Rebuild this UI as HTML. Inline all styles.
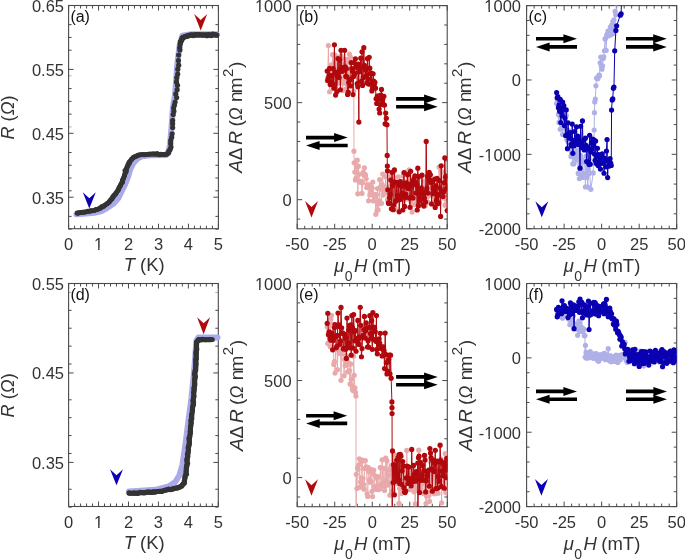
<!DOCTYPE html>
<html><head><meta charset="utf-8"><style>
html,body{margin:0;padding:0;background:#fff;width:685px;height:559px;overflow:hidden}
svg{display:block;will-change:transform;font-family:"Liberation Sans", sans-serif}
</style></head><body>
<svg width="685" height="559" viewBox="0 0 685 559">
<defs><clipPath id="ca"><rect x="68.6" y="5.5" width="149.8" height="223.2"/></clipPath><clipPath id="caw"><rect x="60" y="0" width="163" height="240"/></clipPath><clipPath id="cd"><rect x="68.6" y="283.5" width="149.7" height="223"/></clipPath><clipPath id="cdw"><rect x="60" y="280" width="165" height="240"/></clipPath><clipPath id="cb"><rect x="297.2" y="5.6" width="150" height="223.2"/></clipPath><clipPath id="ce"><rect x="297.2" y="283.5" width="150.1" height="223.2"/></clipPath><clipPath id="cc"><rect x="526.6" y="5.6" width="150.1" height="223.1"/></clipPath><clipPath id="cf"><rect x="526.6" y="283.5" width="150.1" height="223.1"/></clipPath></defs>
<rect x="68.6" y="5.5" width="149.8" height="223.2" fill="none" stroke="#4a4a4a" stroke-width="1.1"/><path d="M74.59 228.7v-3M74.59 5.5v3M80.58 228.7v-3M80.58 5.5v3M86.58 228.7v-3M86.58 5.5v3M92.57 228.7v-3M92.57 5.5v3M104.55 228.7v-3M104.55 5.5v3M110.54 228.7v-3M110.54 5.5v3M116.54 228.7v-3M116.54 5.5v3M122.53 228.7v-3M122.53 5.5v3M134.51 228.7v-3M134.51 5.5v3M140.5 228.7v-3M140.5 5.5v3M146.5 228.7v-3M146.5 5.5v3M152.49 228.7v-3M152.49 5.5v3M164.47 228.7v-3M164.47 5.5v3M170.46 228.7v-3M170.46 5.5v3M176.46 228.7v-3M176.46 5.5v3M182.45 228.7v-3M182.45 5.5v3M194.43 228.7v-3M194.43 5.5v3M200.42 228.7v-3M200.42 5.5v3M206.42 228.7v-3M206.42 5.5v3M212.41 228.7v-3M212.41 5.5v3M68.6 228.7v-5M68.6 5.5v5M98.56 228.7v-5M98.56 5.5v5M128.52 228.7v-5M128.52 5.5v5M158.48 228.7v-5M158.48 5.5v5M188.44 228.7v-5M188.44 5.5v5M218.4 228.7v-5M218.4 5.5v5M68.6 229.15h3M218.4 229.15h-3M68.6 216.37h3M218.4 216.37h-3M68.6 190.81h3M218.4 190.81h-3M68.6 178.03h3M218.4 178.03h-3M68.6 165.25h3M218.4 165.25h-3M68.6 152.47h3M218.4 152.47h-3M68.6 114.13h3M218.4 114.13h-3M68.6 101.35h3M218.4 101.35h-3M68.6 88.57h3M218.4 88.57h-3M68.6 50.23h3M218.4 50.23h-3M68.6 37.45h3M218.4 37.45h-3M68.6 24.67h3M218.4 24.67h-3M68.6 197.2h5M218.4 197.2h-5M68.6 133.3h5M218.4 133.3h-5M68.6 69.4h5M218.4 69.4h-5M68.6 5.5h5M218.4 5.5h-5" stroke="#4a4a4a" stroke-width="1" fill="none"/><path d="M68.6 126.91h3M218.4 126.91h-3M68.6 75.79h3M218.4 75.79h-3" stroke="#4a4a4a" stroke-width="1" fill="none" opacity="0.45"/>
<g clip-path="url(#caw)"><path d="M76.4 214.2 L86.1 213.6 L94.1 212.8 L101.5 211 L107.3 207.9 L113.6 203.5 L118.4 198 L121.4 191.8 L124.6 185.4 L127.8 177.3 L130.2 169.3 L133.4 162.9 L137.4 158.7 L142.1 156.2 L150.3 155.3 L166.4 155 L168.6 151.2 L170 144.8 L171.5 127.4 L172.9 108 L175 95 L176.2 80 L177.2 65 L179.6 45.5 L182.4 35.6 L191.5 34.2 L216.5 34.2" stroke="#aaaaea" stroke-width="6.0" fill="none" stroke-linejoin="round" stroke-linecap="round"/></g>
<g clip-path="url(#caw)"><path d="M77.2 212.9 L86.1 211.8 L94.1 210.6 L100.5 208.3 L105.3 205 L110.1 201 L114.2 196 L118.2 189.8 L121.4 183.4 L124.6 175.3 L127 167.3 L129.4 161.7 L133.4 157.7 L139.1 154.8 L150.3 154.3 L166.4 154.3 L168.6 152.6" stroke="#333333" stroke-width="4.6" fill="none" stroke-linejoin="round" stroke-linecap="round"/></g>
<g clip-path="url(#caw)" fill="#333333"><circle cx="77.23" cy="213.28" r="2.5"/><circle cx="78.7" cy="212.98" r="2.5"/><circle cx="80.68" cy="212.38" r="2.5"/><circle cx="83.11" cy="212.29" r="2.5"/><circle cx="84.31" cy="212.24" r="2.5"/><circle cx="86.44" cy="211.79" r="2.5"/><circle cx="87.88" cy="211.27" r="2.5"/><circle cx="89.19" cy="211.19" r="2.5"/><circle cx="90.5" cy="210.63" r="2.5"/><circle cx="92.01" cy="210.77" r="2.5"/><circle cx="94.05" cy="210.5" r="2.5"/><circle cx="95.72" cy="209.62" r="2.5"/><circle cx="97.28" cy="209.52" r="2.5"/><circle cx="99.13" cy="208.62" r="2.5"/><circle cx="100.38" cy="207.7" r="2.5"/><circle cx="101.95" cy="206.54" r="2.5"/><circle cx="103.27" cy="206.43" r="2.5"/><circle cx="104.64" cy="205.24" r="2.5"/><circle cx="106.6" cy="203.91" r="2.5"/><circle cx="107.84" cy="203.16" r="2.5"/><circle cx="109.21" cy="201.93" r="2.5"/><circle cx="109.92" cy="200.82" r="2.5"/><circle cx="110.83" cy="199.74" r="2.5"/><circle cx="111.91" cy="198.82" r="2.5"/><circle cx="112.61" cy="196.92" r="2.5"/><circle cx="113.91" cy="195.37" r="2.5"/><circle cx="115.77" cy="193.73" r="2.5"/><circle cx="116.12" cy="192.74" r="2.5"/><circle cx="117.7" cy="190.75" r="2.5"/><circle cx="118.52" cy="189.58" r="2.5"/><circle cx="118.95" cy="188" r="2.5"/><circle cx="119.99" cy="186.26" r="2.5"/><circle cx="120.58" cy="185.11" r="2.5"/><circle cx="121.95" cy="182.68" r="2.5"/><circle cx="122.5" cy="182.06" r="2.5"/><circle cx="122.53" cy="180.25" r="2.5"/><circle cx="123.18" cy="179.03" r="2.5"/><circle cx="124.02" cy="176.86" r="2.5"/><circle cx="124.53" cy="175.24" r="2.5"/><circle cx="125.03" cy="173.44" r="2.5"/><circle cx="126.18" cy="171.53" r="2.5"/><circle cx="124.96" cy="170.46" r="2.5"/><circle cx="126.48" cy="169.01" r="2.5"/><circle cx="126.94" cy="167.26" r="2.5"/><circle cx="127.7" cy="166.19" r="2.5"/><circle cx="128.07" cy="164.39" r="2.5"/><circle cx="129.38" cy="163.26" r="2.5"/><circle cx="129.1" cy="162.4" r="2.5"/><circle cx="130.97" cy="160.19" r="2.5"/><circle cx="131.71" cy="159.12" r="2.5"/><circle cx="133.15" cy="157.38" r="2.5"/><circle cx="134.44" cy="156.82" r="2.5"/><circle cx="136.58" cy="156.12" r="2.5"/><circle cx="137.24" cy="155.73" r="2.5"/><circle cx="139.12" cy="155.05" r="2.5"/><circle cx="141.33" cy="154.67" r="2.5"/><circle cx="142.79" cy="154.62" r="2.5"/><circle cx="144.36" cy="154.75" r="2.5"/><circle cx="146.98" cy="154.52" r="2.5"/><circle cx="148.36" cy="154.31" r="2.5"/><circle cx="150.07" cy="154.06" r="2.5"/><circle cx="151.97" cy="154.05" r="2.5"/><circle cx="153.75" cy="153.83" r="2.5"/><circle cx="155.77" cy="154.31" r="2.5"/><circle cx="157.11" cy="153.61" r="2.5"/><circle cx="159.24" cy="154.63" r="2.5"/><circle cx="160.81" cy="154.16" r="2.5"/><circle cx="162.65" cy="154.5" r="2.5"/><circle cx="164.34" cy="154.6" r="2.5"/><circle cx="166.31" cy="154.58" r="2.5"/><circle cx="167.51" cy="153.38" r="2.5"/></g>
<g clip-path="url(#caw)" fill="#333333"><circle cx="168.62" cy="152.83" r="2.6"/><circle cx="168.9" cy="151.08" r="2.6"/><circle cx="170.13" cy="149.41" r="2.6"/><circle cx="170.98" cy="147.06" r="2.6"/><circle cx="170.7" cy="143.65" r="2.6"/><circle cx="170.74" cy="140.41" r="2.6"/><circle cx="171.71" cy="137.21" r="2.6"/><circle cx="172.15" cy="133.78" r="2.6"/><circle cx="172.63" cy="127.54" r="2.6"/><circle cx="172.6" cy="123.69" r="2.6"/><circle cx="172.64" cy="120.42" r="2.6"/><circle cx="173.19" cy="114.56" r="2.6"/><circle cx="173.86" cy="111.15" r="2.6"/><circle cx="173.65" cy="107.74" r="2.6"/><circle cx="174.45" cy="105.09" r="2.6"/><circle cx="175.09" cy="102.04" r="2.6"/><circle cx="176.65" cy="97.6" r="2.6"/><circle cx="175.76" cy="93.88" r="2.6"/><circle cx="177.15" cy="89.65" r="2.6"/><circle cx="177.52" cy="85.35" r="2.6"/><circle cx="176.48" cy="81.97" r="2.6"/><circle cx="176.77" cy="77.69" r="2.6"/><circle cx="177.69" cy="74.03" r="2.6"/><circle cx="177.79" cy="69.2" r="2.6"/><circle cx="178.67" cy="65.2" r="2.6"/><circle cx="178.42" cy="60.61" r="2.6"/><circle cx="178.62" cy="55.08" r="2.6"/><circle cx="179.93" cy="49.99" r="2.6"/><circle cx="179.71" cy="47.51" r="2.6"/><circle cx="180.13" cy="44.37" r="2.6"/></g>
<g clip-path="url(#caw)"><path d="M180.8 42 L182.9 37.4 L191.5 34.9 L217 34.9" stroke="#333333" stroke-width="5.0" fill="none" stroke-linejoin="round" stroke-linecap="round"/></g>
<g clip-path="url(#caw)" fill="#333333"><circle cx="180.45" cy="41.66" r="2.7"/><circle cx="181.7" cy="39.78" r="2.7"/><circle cx="182.16" cy="38.26" r="2.7"/><circle cx="183.23" cy="37.46" r="2.7"/><circle cx="185.03" cy="36.75" r="2.7"/><circle cx="186.46" cy="36.31" r="2.7"/><circle cx="187.84" cy="35.94" r="2.7"/><circle cx="189.4" cy="35.29" r="2.7"/><circle cx="191.71" cy="34.92" r="2.7"/><circle cx="193.34" cy="35.56" r="2.7"/><circle cx="195.44" cy="34.72" r="2.7"/><circle cx="197.43" cy="34.74" r="2.7"/><circle cx="199.23" cy="34.79" r="2.7"/><circle cx="201.92" cy="34.91" r="2.7"/><circle cx="203.32" cy="35.1" r="2.7"/><circle cx="205.84" cy="34.83" r="2.7"/><circle cx="207.01" cy="35.64" r="2.7"/><circle cx="208.72" cy="34.79" r="2.7"/><circle cx="211.32" cy="35.59" r="2.7"/><circle cx="212.79" cy="34.17" r="2.7"/><circle cx="215.24" cy="34.74" r="2.7"/></g>
<path d="M82.8 192.3L89.3 198.3L95.8 192.3L89.3 208.6Z" fill="#0a00b2"/>
<path d="M194.2 14L200.7 20L207.2 14L200.7 30.6Z" fill="#b0080c"/>
<rect x="68.6" y="283.5" width="149.7" height="223" fill="none" stroke="#4a4a4a" stroke-width="1.1"/><path d="M74.59 506.5v-3M74.59 283.5v3M80.58 506.5v-3M80.58 283.5v3M86.56 506.5v-3M86.56 283.5v3M92.55 506.5v-3M92.55 283.5v3M104.53 506.5v-3M104.53 283.5v3M110.52 506.5v-3M110.52 283.5v3M116.5 506.5v-3M116.5 283.5v3M122.49 506.5v-3M122.49 283.5v3M134.47 506.5v-3M134.47 283.5v3M140.46 506.5v-3M140.46 283.5v3M146.44 506.5v-3M146.44 283.5v3M152.43 506.5v-3M152.43 283.5v3M164.41 506.5v-3M164.41 283.5v3M170.4 506.5v-3M170.4 283.5v3M176.38 506.5v-3M176.38 283.5v3M182.37 506.5v-3M182.37 283.5v3M194.35 506.5v-3M194.35 283.5v3M200.34 506.5v-3M200.34 283.5v3M206.32 506.5v-3M206.32 283.5v3M212.31 506.5v-3M212.31 283.5v3M68.6 506.5v-5M68.6 283.5v5M98.54 506.5v-5M98.54 283.5v5M128.48 506.5v-5M128.48 283.5v5M158.42 506.5v-5M158.42 283.5v5M188.36 506.5v-5M188.36 283.5v5M218.3 506.5v-5M218.3 283.5v5M68.6 507.13h3M218.3 507.13h-3M68.6 489.24h3M218.3 489.24h-3M68.6 453.46h3M218.3 453.46h-3M68.6 435.57h3M218.3 435.57h-3M68.6 417.68h3M218.3 417.68h-3M68.6 399.79h3M218.3 399.79h-3M68.6 364.01h3M218.3 364.01h-3M68.6 346.12h3M218.3 346.12h-3M68.6 328.23h3M218.3 328.23h-3M68.6 310.34h3M218.3 310.34h-3M68.6 462.4h5M218.3 462.4h-5M68.6 372.95h5M218.3 372.95h-5M68.6 283.5h5M218.3 283.5h-5" stroke="#4a4a4a" stroke-width="1" fill="none"/><path d="M68.6 292.45h3M218.3 292.45h-3" stroke="#4a4a4a" stroke-width="1" fill="none" opacity="0.45"/>
<g clip-path="url(#cdw)"><path d="M129 491.6 L155.1 489.8 L168.9 486.4 L175.2 482 L179.3 475.5 L182.4 465 L185.3 445.4 L188.4 421.1 L191.6 396.8 L193.7 375.6 L195.3 356.3 L196.3 341 L198.5 337.4 L217.5 337.4" stroke="#aaaaea" stroke-width="6.0" fill="none" stroke-linejoin="round" stroke-linecap="round"/></g>
<g clip-path="url(#cdw)"><path d="M129 493.3 L155.1 492 L172.2 489.2 L180.3 486.8 L184.3 483 L186.7 465.7 L188.9 445.4 L191.3 421.1 L193.4 399.9 L194.9 378.6 L195.8 360.4 L196.5 342.2 L198.5 339.7 L212.5 339.7" stroke="#333333" stroke-width="4.8" fill="none" stroke-linejoin="round" stroke-linecap="round"/></g>
<g clip-path="url(#cdw)" fill="#333333"><circle cx="129.15" cy="492.76" r="2.6"/><circle cx="130.63" cy="493.23" r="2.6"/><circle cx="133.17" cy="493.12" r="2.6"/><circle cx="134.1" cy="493.12" r="2.6"/><circle cx="136.1" cy="493.3" r="2.6"/><circle cx="138.24" cy="493.37" r="2.6"/><circle cx="140.15" cy="492.44" r="2.6"/><circle cx="141.61" cy="492.54" r="2.6"/><circle cx="144.05" cy="492.91" r="2.6"/><circle cx="145.86" cy="492.24" r="2.6"/><circle cx="147.79" cy="491.94" r="2.6"/><circle cx="149.66" cy="492.05" r="2.6"/><circle cx="151.82" cy="492.48" r="2.6"/><circle cx="153.35" cy="491.79" r="2.6"/><circle cx="155.27" cy="492.11" r="2.6"/><circle cx="156.84" cy="491.5" r="2.6"/><circle cx="159.28" cy="491.26" r="2.6"/><circle cx="160.93" cy="491.48" r="2.6"/><circle cx="162.25" cy="491.29" r="2.6"/><circle cx="164.9" cy="490.25" r="2.6"/><circle cx="166.21" cy="489.77" r="2.6"/><circle cx="168.68" cy="489.05" r="2.6"/><circle cx="170.58" cy="489.56" r="2.6"/><circle cx="171.99" cy="489.05" r="2.6"/><circle cx="173.71" cy="488.65" r="2.6"/><circle cx="175.71" cy="487.99" r="2.6"/><circle cx="177.39" cy="488.06" r="2.6"/><circle cx="178.6" cy="487.46" r="2.6"/><circle cx="180.14" cy="486.82" r="2.6"/><circle cx="181.78" cy="486.12" r="2.6"/><circle cx="182.95" cy="484.22" r="2.6"/><circle cx="184.31" cy="482.95" r="2.6"/><circle cx="184.32" cy="481.09" r="2.6"/><circle cx="184.8" cy="477.88" r="2.6"/><circle cx="185.11" cy="475.79" r="2.6"/><circle cx="186.56" cy="474.03" r="2.6"/><circle cx="186.31" cy="470.75" r="2.6"/><circle cx="186.35" cy="467.87" r="2.6"/><circle cx="186.92" cy="465.67" r="2.6"/><circle cx="187.57" cy="463.36" r="2.6"/><circle cx="186.89" cy="460.64" r="2.6"/><circle cx="186.9" cy="459.12" r="2.6"/><circle cx="187.78" cy="456.33" r="2.6"/><circle cx="187.46" cy="454.51" r="2.6"/><circle cx="188.06" cy="452.24" r="2.6"/><circle cx="188.41" cy="449.68" r="2.6"/><circle cx="188.13" cy="447.7" r="2.6"/><circle cx="188.93" cy="445.46" r="2.6"/><circle cx="189.43" cy="443.25" r="2.6"/><circle cx="189.23" cy="440.72" r="2.6"/><circle cx="188.96" cy="438.32" r="2.6"/><circle cx="189.85" cy="435.99" r="2.6"/><circle cx="190.4" cy="432.97" r="2.6"/><circle cx="190.3" cy="431.16" r="2.6"/><circle cx="190.42" cy="428.41" r="2.6"/><circle cx="190.64" cy="426.14" r="2.6"/><circle cx="191.15" cy="423.28" r="2.6"/><circle cx="190.87" cy="420.43" r="2.6"/><circle cx="191.79" cy="418.61" r="2.6"/><circle cx="191.56" cy="416.23" r="2.6"/><circle cx="191.72" cy="414.24" r="2.6"/><circle cx="192.42" cy="411" r="2.6"/><circle cx="192.46" cy="409.35" r="2.6"/><circle cx="192.6" cy="407" r="2.6"/><circle cx="193.44" cy="404.71" r="2.6"/><circle cx="193.53" cy="402.56" r="2.6"/><circle cx="192.94" cy="400.44" r="2.6"/><circle cx="193.63" cy="397.45" r="2.6"/><circle cx="193.99" cy="395.85" r="2.6"/><circle cx="193.66" cy="392.59" r="2.6"/><circle cx="194.18" cy="389.89" r="2.6"/><circle cx="193.9" cy="388.08" r="2.6"/><circle cx="194.63" cy="385.87" r="2.6"/><circle cx="194.82" cy="383.67" r="2.6"/><circle cx="194.6" cy="380.86" r="2.6"/><circle cx="194.81" cy="378.5" r="2.6"/><circle cx="195.35" cy="376.59" r="2.6"/><circle cx="194.5" cy="374.2" r="2.6"/><circle cx="194.92" cy="371.44" r="2.6"/><circle cx="195.75" cy="369.91" r="2.6"/><circle cx="195.82" cy="367.43" r="2.6"/><circle cx="196.13" cy="364.6" r="2.6"/><circle cx="195.95" cy="362.47" r="2.6"/><circle cx="195.62" cy="359.9" r="2.6"/><circle cx="196.36" cy="358.67" r="2.6"/><circle cx="196.25" cy="355.67" r="2.6"/><circle cx="196.12" cy="353.25" r="2.6"/><circle cx="196.07" cy="351.77" r="2.6"/><circle cx="196.73" cy="349.23" r="2.6"/><circle cx="196.57" cy="346.72" r="2.6"/><circle cx="196.53" cy="344.43" r="2.6"/><circle cx="196.65" cy="342.01" r="2.6"/><circle cx="197.81" cy="340.88" r="2.6"/><circle cx="198.57" cy="339.66" r="2.6"/><circle cx="200.97" cy="339.98" r="2.6"/><circle cx="202.26" cy="339.42" r="2.6"/><circle cx="204.68" cy="339.74" r="2.6"/><circle cx="206.43" cy="339.77" r="2.6"/><circle cx="209.01" cy="339.68" r="2.6"/><circle cx="210.94" cy="339.56" r="2.6"/></g>
<path d="M110 469.3L116.5 475.3L123 469.3L116.5 485.3Z" fill="#0a00b2"/>
<path d="M197.1 317.3L203.6 323.3L210.1 317.3L203.6 334.3Z" fill="#b0080c"/>
<rect x="297.2" y="5.6" width="150" height="223.2" fill="none" stroke="#4a4a4a" stroke-width="1.1"/><path d="M304.7 228.8v-3M304.7 5.6v3M312.2 228.8v-3M312.2 5.6v3M319.7 228.8v-3M319.7 5.6v3M327.2 228.8v-3M327.2 5.6v3M342.2 228.8v-3M342.2 5.6v3M349.7 228.8v-3M349.7 5.6v3M357.2 228.8v-3M357.2 5.6v3M364.7 228.8v-3M364.7 5.6v3M379.7 228.8v-3M379.7 5.6v3M387.2 228.8v-3M387.2 5.6v3M394.7 228.8v-3M394.7 5.6v3M402.2 228.8v-3M402.2 5.6v3M417.2 228.8v-3M417.2 5.6v3M424.7 228.8v-3M424.7 5.6v3M432.2 228.8v-3M432.2 5.6v3M439.7 228.8v-3M439.7 5.6v3M297.2 228.8v-5M297.2 5.6v5M334.7 228.8v-5M334.7 5.6v5M372.2 228.8v-5M372.2 5.6v5M409.7 228.8v-5M409.7 5.6v5M447.2 228.8v-5M447.2 5.6v5M297.2 219.1h3M447.2 219.1h-3M297.2 180.28h3M447.2 180.28h-3M297.2 160.87h3M447.2 160.87h-3M297.2 141.46h3M447.2 141.46h-3M297.2 122.05h3M447.2 122.05h-3M297.2 83.23h3M447.2 83.23h-3M297.2 63.83h3M447.2 63.83h-3M297.2 44.42h3M447.2 44.42h-3M297.2 25.01h3M447.2 25.01h-3M297.2 199.69h5M447.2 199.69h-5M297.2 102.64h5M447.2 102.64h-5M297.2 5.6h5M447.2 5.6h-5" stroke="#4a4a4a" stroke-width="1" fill="none"/>
<g clip-path="url(#cb)"><path d="M327.2 80.78 L327.8 77.58 L328.4 45.57 L329 79.73 L329.6 91.75 L330.2 69.71 L330.8 71.56 L331.4 64.82 L332 78.17 L332.6 54.72 L333.2 65.66 L333.8 66.06 L334.4 69.99 L335 55.19 L335.6 62.07 L336.2 83.06 L336.8 62.93 L337.4 81.79 L338 57.57 L338.6 80.63 L339.2 68.63 L339.8 83.26 L340.4 68.96 L341 55.5 L341.6 58.47 L342.2 81.46 L342.8 90.41 L343.4 64.18 L344 82.04 L344.6 83.13 L345.2 64.43 L345.8 89.02 L346.4 62.94 L347 59.45 L347.6 72.95 L348.2 84.87 L348.8 76.07 L349.4 54.01 L350 70.83 L350.6 57.29 L351.2 72.57 L351.8 71.62 L352.4 70.78 L353 71.57 L353.82 91 L353.97 151.17 L354.2 162.8 L354.8 172.06 L355.4 180.11 L356 178.04 L356.6 167.04 L357.2 160.2 L357.8 193.81 L358.4 166.21 L359 174.34 L359.6 181.29 L360.2 182.18 L360.8 181.31 L361.4 182.25 L362 193.44 L362.6 182.87 L363.2 172.29 L363.8 174.93 L364.4 167.82 L365 174.78 L365.6 174.9 L366.2 178.81 L366.8 187.43 L367.4 184.7 L368 186.51 L368.6 200.85 L369.2 184.92 L369.8 194.98 L370.4 186.99 L371 193.96 L371.6 192.19 L372.2 187.99 L372.8 182.03 L373.4 200.9 L374 196.27 L374.6 195.46 L375.2 194.7 L375.8 214.32 L376.4 194.6 L377 210.44 L377.6 188.57 L378.2 209.73 L378.8 203.77 L379.4 200.79 L379.7 179.63 L380.3 186.99 L380.9 189.2 L381.5 203.32 L382.1 184.58 L382.7 174.06 L383.3 195.07 L383.9 187.02 L384.5 191.56 L385.1 192.01 L385.7 176.7 L386.3 187.82 L386.9 192.68 L387.5 199.59 L388.1 201.34 L388.7 198.31 L389.3 176.67 L389.9 196.59 L390.5 186.19 L391.1 188.73 L391.7 194.16 L392.3 181.41 L392.9 176.83 L393.5 191.34 L394.1 171.59 L394.7 204.03 L395.3 186.64 L395.9 208.85 L396.5 195.15 L397.1 187.83 L397.7 188.19 L398.3 176.81 L398.9 190.53 L399.5 187.72 L400.1 187.45 L400.7 181.86 L401.3 190.69 L401.9 199.46 L402.5 181.98 L403.1 175.75 L403.7 197.88 L404.3 181.88 L404.9 188.31 L405.5 188.28 L406.1 184.69 L406.7 172 L407.3 199.04 L407.9 183.87 L408.5 174.31 L409.1 169.94 L409.7 185.7 L410.3 197.29 L410.9 201.86 L411.5 183.97 L412.1 212.1 L412.7 188.06 L413.3 192.64 L413.9 194.93 L414.5 192.81 L415.1 204.53 L415.7 189.31 L416.3 190.99 L416.9 200.08 L417.5 198.61 L418.1 186.47 L418.7 205.64 L419.3 200.79 L419.9 194.19 L420.5 196.96 L421.1 193.17 L421.7 190.5 L422.3 189.83 L422.9 201.24 L423.5 192.22 L424.1 181.01 L424.7 187.96 L425.3 205.85 L425.9 186.1 L426.5 193.41 L427.1 196.92 L427.7 189.04 L428.3 202.29 L428.9 177.91 L429.5 189.98 L430.1 195.2 L430.7 187.05 L431.3 187.68 L431.9 193.88 L432.5 187.24 L433.1 185.75 L433.7 202.68 L434.3 197.16 L434.9 201.78 L435.5 187.72 L436.1 194.32 L436.7 191.79 L437.3 184.96 L437.9 188.41 L438.5 195.72 L439.1 166.98 L439.7 182.55 L440.3 188.2 L440.9 170.63 L441.5 190.68 L442.1 188.24 L442.7 184.8 L443.3 172.3 L443.9 197.01 L444.5 197.75 L445.1 205.14 L445.7 181.93 L446.3 180.62 L446.9 191.29" stroke="#e9a9ab" stroke-width="1.0" fill="none" stroke-linejoin="round"/><g fill="#e9a9ab"><circle cx="327.2" cy="80.78" r="2.6"/><circle cx="327.8" cy="77.58" r="2.6"/><circle cx="328.4" cy="45.57" r="2.6"/><circle cx="329" cy="79.73" r="2.6"/><circle cx="329.6" cy="91.75" r="2.6"/><circle cx="330.2" cy="69.71" r="2.6"/><circle cx="330.8" cy="71.56" r="2.6"/><circle cx="331.4" cy="64.82" r="2.6"/><circle cx="332" cy="78.17" r="2.6"/><circle cx="332.6" cy="54.72" r="2.6"/><circle cx="333.2" cy="65.66" r="2.6"/><circle cx="333.8" cy="66.06" r="2.6"/><circle cx="334.4" cy="69.99" r="2.6"/><circle cx="335" cy="55.19" r="2.6"/><circle cx="335.6" cy="62.07" r="2.6"/><circle cx="336.2" cy="83.06" r="2.6"/><circle cx="336.8" cy="62.93" r="2.6"/><circle cx="337.4" cy="81.79" r="2.6"/><circle cx="338" cy="57.57" r="2.6"/><circle cx="338.6" cy="80.63" r="2.6"/><circle cx="339.2" cy="68.63" r="2.6"/><circle cx="339.8" cy="83.26" r="2.6"/><circle cx="340.4" cy="68.96" r="2.6"/><circle cx="341" cy="55.5" r="2.6"/><circle cx="341.6" cy="58.47" r="2.6"/><circle cx="342.2" cy="81.46" r="2.6"/><circle cx="342.8" cy="90.41" r="2.6"/><circle cx="343.4" cy="64.18" r="2.6"/><circle cx="344" cy="82.04" r="2.6"/><circle cx="344.6" cy="83.13" r="2.6"/><circle cx="345.2" cy="64.43" r="2.6"/><circle cx="345.8" cy="89.02" r="2.6"/><circle cx="346.4" cy="62.94" r="2.6"/><circle cx="347" cy="59.45" r="2.6"/><circle cx="347.6" cy="72.95" r="2.6"/><circle cx="348.2" cy="84.87" r="2.6"/><circle cx="348.8" cy="76.07" r="2.6"/><circle cx="349.4" cy="54.01" r="2.6"/><circle cx="350" cy="70.83" r="2.6"/><circle cx="350.6" cy="57.29" r="2.6"/><circle cx="351.2" cy="72.57" r="2.6"/><circle cx="351.8" cy="71.62" r="2.6"/><circle cx="352.4" cy="70.78" r="2.6"/><circle cx="353" cy="71.57" r="2.6"/><circle cx="353.82" cy="91" r="2.6"/><circle cx="353.97" cy="151.17" r="2.6"/><circle cx="354.2" cy="162.8" r="2.6"/><circle cx="354.8" cy="172.06" r="2.6"/><circle cx="355.4" cy="180.11" r="2.6"/><circle cx="356" cy="178.04" r="2.6"/><circle cx="356.6" cy="167.04" r="2.6"/><circle cx="357.2" cy="160.2" r="2.6"/><circle cx="357.8" cy="193.81" r="2.6"/><circle cx="358.4" cy="166.21" r="2.6"/><circle cx="359" cy="174.34" r="2.6"/><circle cx="359.6" cy="181.29" r="2.6"/><circle cx="360.2" cy="182.18" r="2.6"/><circle cx="360.8" cy="181.31" r="2.6"/><circle cx="361.4" cy="182.25" r="2.6"/><circle cx="362" cy="193.44" r="2.6"/><circle cx="362.6" cy="182.87" r="2.6"/><circle cx="363.2" cy="172.29" r="2.6"/><circle cx="363.8" cy="174.93" r="2.6"/><circle cx="364.4" cy="167.82" r="2.6"/><circle cx="365" cy="174.78" r="2.6"/><circle cx="365.6" cy="174.9" r="2.6"/><circle cx="366.2" cy="178.81" r="2.6"/><circle cx="366.8" cy="187.43" r="2.6"/><circle cx="367.4" cy="184.7" r="2.6"/><circle cx="368" cy="186.51" r="2.6"/><circle cx="368.6" cy="200.85" r="2.6"/><circle cx="369.2" cy="184.92" r="2.6"/><circle cx="369.8" cy="194.98" r="2.6"/><circle cx="370.4" cy="186.99" r="2.6"/><circle cx="371" cy="193.96" r="2.6"/><circle cx="371.6" cy="192.19" r="2.6"/><circle cx="372.2" cy="187.99" r="2.6"/><circle cx="372.8" cy="182.03" r="2.6"/><circle cx="373.4" cy="200.9" r="2.6"/><circle cx="374" cy="196.27" r="2.6"/><circle cx="374.6" cy="195.46" r="2.6"/><circle cx="375.2" cy="194.7" r="2.6"/><circle cx="375.8" cy="214.32" r="2.6"/><circle cx="376.4" cy="194.6" r="2.6"/><circle cx="377" cy="210.44" r="2.6"/><circle cx="377.6" cy="188.57" r="2.6"/><circle cx="378.2" cy="209.73" r="2.6"/><circle cx="378.8" cy="203.77" r="2.6"/><circle cx="379.4" cy="200.79" r="2.6"/><circle cx="379.7" cy="179.63" r="2.6"/><circle cx="380.3" cy="186.99" r="2.6"/><circle cx="380.9" cy="189.2" r="2.6"/><circle cx="381.5" cy="203.32" r="2.6"/><circle cx="382.1" cy="184.58" r="2.6"/><circle cx="382.7" cy="174.06" r="2.6"/><circle cx="383.3" cy="195.07" r="2.6"/><circle cx="383.9" cy="187.02" r="2.6"/><circle cx="384.5" cy="191.56" r="2.6"/><circle cx="385.1" cy="192.01" r="2.6"/><circle cx="385.7" cy="176.7" r="2.6"/><circle cx="386.3" cy="187.82" r="2.6"/><circle cx="386.9" cy="192.68" r="2.6"/><circle cx="387.5" cy="199.59" r="2.6"/><circle cx="388.1" cy="201.34" r="2.6"/><circle cx="388.7" cy="198.31" r="2.6"/><circle cx="389.3" cy="176.67" r="2.6"/><circle cx="389.9" cy="196.59" r="2.6"/><circle cx="390.5" cy="186.19" r="2.6"/><circle cx="391.1" cy="188.73" r="2.6"/><circle cx="391.7" cy="194.16" r="2.6"/><circle cx="392.3" cy="181.41" r="2.6"/><circle cx="392.9" cy="176.83" r="2.6"/><circle cx="393.5" cy="191.34" r="2.6"/><circle cx="394.1" cy="171.59" r="2.6"/><circle cx="394.7" cy="204.03" r="2.6"/><circle cx="395.3" cy="186.64" r="2.6"/><circle cx="395.9" cy="208.85" r="2.6"/><circle cx="396.5" cy="195.15" r="2.6"/><circle cx="397.1" cy="187.83" r="2.6"/><circle cx="397.7" cy="188.19" r="2.6"/><circle cx="398.3" cy="176.81" r="2.6"/><circle cx="398.9" cy="190.53" r="2.6"/><circle cx="399.5" cy="187.72" r="2.6"/><circle cx="400.1" cy="187.45" r="2.6"/><circle cx="400.7" cy="181.86" r="2.6"/><circle cx="401.3" cy="190.69" r="2.6"/><circle cx="401.9" cy="199.46" r="2.6"/><circle cx="402.5" cy="181.98" r="2.6"/><circle cx="403.1" cy="175.75" r="2.6"/><circle cx="403.7" cy="197.88" r="2.6"/><circle cx="404.3" cy="181.88" r="2.6"/><circle cx="404.9" cy="188.31" r="2.6"/><circle cx="405.5" cy="188.28" r="2.6"/><circle cx="406.1" cy="184.69" r="2.6"/><circle cx="406.7" cy="172" r="2.6"/><circle cx="407.3" cy="199.04" r="2.6"/><circle cx="407.9" cy="183.87" r="2.6"/><circle cx="408.5" cy="174.31" r="2.6"/><circle cx="409.1" cy="169.94" r="2.6"/><circle cx="409.7" cy="185.7" r="2.6"/><circle cx="410.3" cy="197.29" r="2.6"/><circle cx="410.9" cy="201.86" r="2.6"/><circle cx="411.5" cy="183.97" r="2.6"/><circle cx="412.1" cy="212.1" r="2.6"/><circle cx="412.7" cy="188.06" r="2.6"/><circle cx="413.3" cy="192.64" r="2.6"/><circle cx="413.9" cy="194.93" r="2.6"/><circle cx="414.5" cy="192.81" r="2.6"/><circle cx="415.1" cy="204.53" r="2.6"/><circle cx="415.7" cy="189.31" r="2.6"/><circle cx="416.3" cy="190.99" r="2.6"/><circle cx="416.9" cy="200.08" r="2.6"/><circle cx="417.5" cy="198.61" r="2.6"/><circle cx="418.1" cy="186.47" r="2.6"/><circle cx="418.7" cy="205.64" r="2.6"/><circle cx="419.3" cy="200.79" r="2.6"/><circle cx="419.9" cy="194.19" r="2.6"/><circle cx="420.5" cy="196.96" r="2.6"/><circle cx="421.1" cy="193.17" r="2.6"/><circle cx="421.7" cy="190.5" r="2.6"/><circle cx="422.3" cy="189.83" r="2.6"/><circle cx="422.9" cy="201.24" r="2.6"/><circle cx="423.5" cy="192.22" r="2.6"/><circle cx="424.1" cy="181.01" r="2.6"/><circle cx="424.7" cy="187.96" r="2.6"/><circle cx="425.3" cy="205.85" r="2.6"/><circle cx="425.9" cy="186.1" r="2.6"/><circle cx="426.5" cy="193.41" r="2.6"/><circle cx="427.1" cy="196.92" r="2.6"/><circle cx="427.7" cy="189.04" r="2.6"/><circle cx="428.3" cy="202.29" r="2.6"/><circle cx="428.9" cy="177.91" r="2.6"/><circle cx="429.5" cy="189.98" r="2.6"/><circle cx="430.1" cy="195.2" r="2.6"/><circle cx="430.7" cy="187.05" r="2.6"/><circle cx="431.3" cy="187.68" r="2.6"/><circle cx="431.9" cy="193.88" r="2.6"/><circle cx="432.5" cy="187.24" r="2.6"/><circle cx="433.1" cy="185.75" r="2.6"/><circle cx="433.7" cy="202.68" r="2.6"/><circle cx="434.3" cy="197.16" r="2.6"/><circle cx="434.9" cy="201.78" r="2.6"/><circle cx="435.5" cy="187.72" r="2.6"/><circle cx="436.1" cy="194.32" r="2.6"/><circle cx="436.7" cy="191.79" r="2.6"/><circle cx="437.3" cy="184.96" r="2.6"/><circle cx="437.9" cy="188.41" r="2.6"/><circle cx="438.5" cy="195.72" r="2.6"/><circle cx="439.1" cy="166.98" r="2.6"/><circle cx="439.7" cy="182.55" r="2.6"/><circle cx="440.3" cy="188.2" r="2.6"/><circle cx="440.9" cy="170.63" r="2.6"/><circle cx="441.5" cy="190.68" r="2.6"/><circle cx="442.1" cy="188.24" r="2.6"/><circle cx="442.7" cy="184.8" r="2.6"/><circle cx="443.3" cy="172.3" r="2.6"/><circle cx="443.9" cy="197.01" r="2.6"/><circle cx="444.5" cy="197.75" r="2.6"/><circle cx="445.1" cy="205.14" r="2.6"/><circle cx="445.7" cy="181.93" r="2.6"/><circle cx="446.3" cy="180.62" r="2.6"/><circle cx="446.9" cy="191.29" r="2.6"/></g></g>
<g clip-path="url(#cb)"><path d="M327.2 71.06 L327.8 80.38 L328.4 78.33 L329 75.62 L329.6 68.44 L330.2 84.55 L330.8 83.53 L331.4 82.62 L332 75.5 L332.6 83.98 L333.2 68.68 L333.8 88.16 L334.4 44.83 L335 72.48 L335.6 95.04 L336.2 73.14 L336.8 91.81 L337.4 76.04 L338 58.49 L338.6 71.47 L339.2 77.52 L339.8 59.89 L340.4 89.74 L341 50.34 L341.6 67.82 L342.2 71.36 L342.8 67.83 L343.4 70.36 L344 68.76 L344.6 50.3 L345.2 66.94 L345.8 76.39 L346.4 68.66 L347 76.95 L347.6 94.45 L348.2 92.21 L348.8 82.62 L349.4 79.45 L350 79.77 L350.6 85.99 L351.2 62.52 L351.8 68.48 L352.4 71 L353 94.53 L353.6 76.49 L354.2 62.48 L354.8 73.55 L355.4 58.73 L356 66.84 L356.6 66.99 L357.2 83.63 L357.8 86.79 L358.4 64.19 L358.85 122.05 L359 71.87 L359.6 70.84 L360.2 68.07 L360.8 58.18 L361.4 81.45 L362 51.8 L362.6 85.47 L363.2 77.93 L363.8 47.69 L364.4 65.34 L365 68.23 L365.6 70.31 L366.2 75.43 L366.8 82.65 L367.4 58.57 L368 78.93 L368.6 84.12 L369.2 57.32 L369.8 68.19 L370.4 73.48 L370.7 83.89 L371.3 73.13 L371.9 90.93 L372.5 87.96 L373.1 73.76 L373.7 81.21 L374.3 84.36 L374.9 82.35 L375.5 88.14 L376.1 98.78 L376.7 103.49 L377.3 96.19 L377.9 99.3 L378.5 96.06 L379.1 109.03 L379.7 113.01 L380.3 104.57 L380.9 95.21 L381.5 89.4 L382.1 101.24 L382.7 99.32 L383.3 104.67 L383.9 96.3 L384.5 105.02 L385.1 123.79 L385.7 113.06 L386.3 118.27 L386.98 124.77 L387.2 155.44 L387.35 166.11 L387.5 170.96 L387.8 189.77 L388.4 202.9 L389 203.43 L389.6 197.83 L390.2 194.4 L390.8 180.09 L391.4 208.83 L392 172.27 L392.6 185.66 L393.2 209.71 L393.8 205.04 L394.4 169.94 L395 182.06 L395.6 201.15 L396.2 200.56 L396.8 182.37 L397.4 195.73 L398 197.02 L398.6 184.98 L399.2 211.83 L399.8 199.42 L400.4 181.49 L401 195.25 L401.6 186.17 L402.2 193.31 L402.8 210.01 L403.4 185.29 L404 172.49 L404.6 206.47 L405.2 197.48 L405.8 194.15 L406.4 182.8 L407 187.37 L407.6 174.68 L408.2 188.61 L408.8 184.4 L409.4 197.94 L410 207.35 L410.6 171.24 L411.2 197.55 L411.8 185.74 L412.4 181.04 L413 198.03 L413.6 180.63 L414.2 178.57 L414.8 175.9 L415.4 182.47 L416 193.05 L416.6 185.2 L417.2 210.01 L417.8 168.2 L418.4 205.69 L419 176.6 L419.6 200.91 L420.2 191.91 L420.8 199.07 L421.4 188.13 L422 175.22 L422.6 194.02 L423.2 204.52 L423.8 206.03 L424.4 198.21 L425 191.85 L425.6 201.99 L426.2 141.4 L426.8 188.44 L427.4 176.48 L428 193.1 L428.6 174.14 L429.2 172.39 L429.8 179.76 L430.4 174.78 L431 182.61 L431.6 204 L432.2 182.11 L432.8 193.74 L433.4 188.2 L434 191.14 L434.6 179.19 L435.2 207.46 L435.8 185.87 L436.4 200.71 L437 178.44 L437.6 203.76 L438.2 194.67 L438.8 202.96 L439.4 180.53 L440 188.04 L440.6 216.44 L441.2 165.83 L441.8 191.32 L442.4 191.46 L443 196.41 L443.6 191.84 L444.2 182.68 L444.8 157.88 L445.4 177 L446 188.91 L446.6 176.1 L447.2 210.59" stroke="#b0080c" stroke-width="1.0" fill="none" stroke-linejoin="round"/><g fill="#b0080c"><circle cx="327.2" cy="71.06" r="2.6"/><circle cx="327.8" cy="80.38" r="2.6"/><circle cx="328.4" cy="78.33" r="2.6"/><circle cx="329" cy="75.62" r="2.6"/><circle cx="329.6" cy="68.44" r="2.6"/><circle cx="330.2" cy="84.55" r="2.6"/><circle cx="330.8" cy="83.53" r="2.6"/><circle cx="331.4" cy="82.62" r="2.6"/><circle cx="332" cy="75.5" r="2.6"/><circle cx="332.6" cy="83.98" r="2.6"/><circle cx="333.2" cy="68.68" r="2.6"/><circle cx="333.8" cy="88.16" r="2.6"/><circle cx="334.4" cy="44.83" r="2.6"/><circle cx="335" cy="72.48" r="2.6"/><circle cx="335.6" cy="95.04" r="2.6"/><circle cx="336.2" cy="73.14" r="2.6"/><circle cx="336.8" cy="91.81" r="2.6"/><circle cx="337.4" cy="76.04" r="2.6"/><circle cx="338" cy="58.49" r="2.6"/><circle cx="338.6" cy="71.47" r="2.6"/><circle cx="339.2" cy="77.52" r="2.6"/><circle cx="339.8" cy="59.89" r="2.6"/><circle cx="340.4" cy="89.74" r="2.6"/><circle cx="341" cy="50.34" r="2.6"/><circle cx="341.6" cy="67.82" r="2.6"/><circle cx="342.2" cy="71.36" r="2.6"/><circle cx="342.8" cy="67.83" r="2.6"/><circle cx="343.4" cy="70.36" r="2.6"/><circle cx="344" cy="68.76" r="2.6"/><circle cx="344.6" cy="50.3" r="2.6"/><circle cx="345.2" cy="66.94" r="2.6"/><circle cx="345.8" cy="76.39" r="2.6"/><circle cx="346.4" cy="68.66" r="2.6"/><circle cx="347" cy="76.95" r="2.6"/><circle cx="347.6" cy="94.45" r="2.6"/><circle cx="348.2" cy="92.21" r="2.6"/><circle cx="348.8" cy="82.62" r="2.6"/><circle cx="349.4" cy="79.45" r="2.6"/><circle cx="350" cy="79.77" r="2.6"/><circle cx="350.6" cy="85.99" r="2.6"/><circle cx="351.2" cy="62.52" r="2.6"/><circle cx="351.8" cy="68.48" r="2.6"/><circle cx="352.4" cy="71" r="2.6"/><circle cx="353" cy="94.53" r="2.6"/><circle cx="353.6" cy="76.49" r="2.6"/><circle cx="354.2" cy="62.48" r="2.6"/><circle cx="354.8" cy="73.55" r="2.6"/><circle cx="355.4" cy="58.73" r="2.6"/><circle cx="356" cy="66.84" r="2.6"/><circle cx="356.6" cy="66.99" r="2.6"/><circle cx="357.2" cy="83.63" r="2.6"/><circle cx="357.8" cy="86.79" r="2.6"/><circle cx="358.4" cy="64.19" r="2.6"/><circle cx="358.85" cy="122.05" r="2.6"/><circle cx="359" cy="71.87" r="2.6"/><circle cx="359.6" cy="70.84" r="2.6"/><circle cx="360.2" cy="68.07" r="2.6"/><circle cx="360.8" cy="58.18" r="2.6"/><circle cx="361.4" cy="81.45" r="2.6"/><circle cx="362" cy="51.8" r="2.6"/><circle cx="362.6" cy="85.47" r="2.6"/><circle cx="363.2" cy="77.93" r="2.6"/><circle cx="363.8" cy="47.69" r="2.6"/><circle cx="364.4" cy="65.34" r="2.6"/><circle cx="365" cy="68.23" r="2.6"/><circle cx="365.6" cy="70.31" r="2.6"/><circle cx="366.2" cy="75.43" r="2.6"/><circle cx="366.8" cy="82.65" r="2.6"/><circle cx="367.4" cy="58.57" r="2.6"/><circle cx="368" cy="78.93" r="2.6"/><circle cx="368.6" cy="84.12" r="2.6"/><circle cx="369.2" cy="57.32" r="2.6"/><circle cx="369.8" cy="68.19" r="2.6"/><circle cx="370.4" cy="73.48" r="2.6"/><circle cx="370.7" cy="83.89" r="2.6"/><circle cx="371.3" cy="73.13" r="2.6"/><circle cx="371.9" cy="90.93" r="2.6"/><circle cx="372.5" cy="87.96" r="2.6"/><circle cx="373.1" cy="73.76" r="2.6"/><circle cx="373.7" cy="81.21" r="2.6"/><circle cx="374.3" cy="84.36" r="2.6"/><circle cx="374.9" cy="82.35" r="2.6"/><circle cx="375.5" cy="88.14" r="2.6"/><circle cx="376.1" cy="98.78" r="2.6"/><circle cx="376.7" cy="103.49" r="2.6"/><circle cx="377.3" cy="96.19" r="2.6"/><circle cx="377.9" cy="99.3" r="2.6"/><circle cx="378.5" cy="96.06" r="2.6"/><circle cx="379.1" cy="109.03" r="2.6"/><circle cx="379.7" cy="113.01" r="2.6"/><circle cx="380.3" cy="104.57" r="2.6"/><circle cx="380.9" cy="95.21" r="2.6"/><circle cx="381.5" cy="89.4" r="2.6"/><circle cx="382.1" cy="101.24" r="2.6"/><circle cx="382.7" cy="99.32" r="2.6"/><circle cx="383.3" cy="104.67" r="2.6"/><circle cx="383.9" cy="96.3" r="2.6"/><circle cx="384.5" cy="105.02" r="2.6"/><circle cx="385.1" cy="123.79" r="2.6"/><circle cx="385.7" cy="113.06" r="2.6"/><circle cx="386.3" cy="118.27" r="2.6"/><circle cx="386.98" cy="124.77" r="2.6"/><circle cx="387.2" cy="155.44" r="2.6"/><circle cx="387.35" cy="166.11" r="2.6"/><circle cx="387.5" cy="170.96" r="2.6"/><circle cx="387.8" cy="189.77" r="2.6"/><circle cx="388.4" cy="202.9" r="2.6"/><circle cx="389" cy="203.43" r="2.6"/><circle cx="389.6" cy="197.83" r="2.6"/><circle cx="390.2" cy="194.4" r="2.6"/><circle cx="390.8" cy="180.09" r="2.6"/><circle cx="391.4" cy="208.83" r="2.6"/><circle cx="392" cy="172.27" r="2.6"/><circle cx="392.6" cy="185.66" r="2.6"/><circle cx="393.2" cy="209.71" r="2.6"/><circle cx="393.8" cy="205.04" r="2.6"/><circle cx="394.4" cy="169.94" r="2.6"/><circle cx="395" cy="182.06" r="2.6"/><circle cx="395.6" cy="201.15" r="2.6"/><circle cx="396.2" cy="200.56" r="2.6"/><circle cx="396.8" cy="182.37" r="2.6"/><circle cx="397.4" cy="195.73" r="2.6"/><circle cx="398" cy="197.02" r="2.6"/><circle cx="398.6" cy="184.98" r="2.6"/><circle cx="399.2" cy="211.83" r="2.6"/><circle cx="399.8" cy="199.42" r="2.6"/><circle cx="400.4" cy="181.49" r="2.6"/><circle cx="401" cy="195.25" r="2.6"/><circle cx="401.6" cy="186.17" r="2.6"/><circle cx="402.2" cy="193.31" r="2.6"/><circle cx="402.8" cy="210.01" r="2.6"/><circle cx="403.4" cy="185.29" r="2.6"/><circle cx="404" cy="172.49" r="2.6"/><circle cx="404.6" cy="206.47" r="2.6"/><circle cx="405.2" cy="197.48" r="2.6"/><circle cx="405.8" cy="194.15" r="2.6"/><circle cx="406.4" cy="182.8" r="2.6"/><circle cx="407" cy="187.37" r="2.6"/><circle cx="407.6" cy="174.68" r="2.6"/><circle cx="408.2" cy="188.61" r="2.6"/><circle cx="408.8" cy="184.4" r="2.6"/><circle cx="409.4" cy="197.94" r="2.6"/><circle cx="410" cy="207.35" r="2.6"/><circle cx="410.6" cy="171.24" r="2.6"/><circle cx="411.2" cy="197.55" r="2.6"/><circle cx="411.8" cy="185.74" r="2.6"/><circle cx="412.4" cy="181.04" r="2.6"/><circle cx="413" cy="198.03" r="2.6"/><circle cx="413.6" cy="180.63" r="2.6"/><circle cx="414.2" cy="178.57" r="2.6"/><circle cx="414.8" cy="175.9" r="2.6"/><circle cx="415.4" cy="182.47" r="2.6"/><circle cx="416" cy="193.05" r="2.6"/><circle cx="416.6" cy="185.2" r="2.6"/><circle cx="417.2" cy="210.01" r="2.6"/><circle cx="417.8" cy="168.2" r="2.6"/><circle cx="418.4" cy="205.69" r="2.6"/><circle cx="419" cy="176.6" r="2.6"/><circle cx="419.6" cy="200.91" r="2.6"/><circle cx="420.2" cy="191.91" r="2.6"/><circle cx="420.8" cy="199.07" r="2.6"/><circle cx="421.4" cy="188.13" r="2.6"/><circle cx="422" cy="175.22" r="2.6"/><circle cx="422.6" cy="194.02" r="2.6"/><circle cx="423.2" cy="204.52" r="2.6"/><circle cx="423.8" cy="206.03" r="2.6"/><circle cx="424.4" cy="198.21" r="2.6"/><circle cx="425" cy="191.85" r="2.6"/><circle cx="425.6" cy="201.99" r="2.6"/><circle cx="426.2" cy="141.4" r="2.6"/><circle cx="426.8" cy="188.44" r="2.6"/><circle cx="427.4" cy="176.48" r="2.6"/><circle cx="428" cy="193.1" r="2.6"/><circle cx="428.6" cy="174.14" r="2.6"/><circle cx="429.2" cy="172.39" r="2.6"/><circle cx="429.8" cy="179.76" r="2.6"/><circle cx="430.4" cy="174.78" r="2.6"/><circle cx="431" cy="182.61" r="2.6"/><circle cx="431.6" cy="204" r="2.6"/><circle cx="432.2" cy="182.11" r="2.6"/><circle cx="432.8" cy="193.74" r="2.6"/><circle cx="433.4" cy="188.2" r="2.6"/><circle cx="434" cy="191.14" r="2.6"/><circle cx="434.6" cy="179.19" r="2.6"/><circle cx="435.2" cy="207.46" r="2.6"/><circle cx="435.8" cy="185.87" r="2.6"/><circle cx="436.4" cy="200.71" r="2.6"/><circle cx="437" cy="178.44" r="2.6"/><circle cx="437.6" cy="203.76" r="2.6"/><circle cx="438.2" cy="194.67" r="2.6"/><circle cx="438.8" cy="202.96" r="2.6"/><circle cx="439.4" cy="180.53" r="2.6"/><circle cx="440" cy="188.04" r="2.6"/><circle cx="440.6" cy="216.44" r="2.6"/><circle cx="441.2" cy="165.83" r="2.6"/><circle cx="441.8" cy="191.32" r="2.6"/><circle cx="442.4" cy="191.46" r="2.6"/><circle cx="443" cy="196.41" r="2.6"/><circle cx="443.6" cy="191.84" r="2.6"/><circle cx="444.2" cy="182.68" r="2.6"/><circle cx="444.8" cy="157.88" r="2.6"/><circle cx="445.4" cy="177" r="2.6"/><circle cx="446" cy="188.91" r="2.6"/><circle cx="446.6" cy="176.1" r="2.6"/><circle cx="447.2" cy="210.59" r="2.6"/></g></g>
<path d="M306 135.8H334.1V133.1L347.7 137.6L334.1 142.1V139.4H306Z" fill="#000"/><path d="M347.7 143.7H319.6V141L306 145.5L319.6 150V147.3H347.7Z" fill="#000"/>
<path d="M396.1 97.1H424.1V94.4L437.7 98.9L424.1 103.4V100.7H396.1Z" fill="#000"/><path d="M396.1 105H424.1V102.3L437.7 106.8L424.1 111.3V108.6H396.1Z" fill="#000"/>
<path d="M305 201L311.5 207L318 201L311.5 217.6Z" fill="#b0080c"/>
<rect x="297.2" y="283.5" width="150.1" height="223.2" fill="none" stroke="#4a4a4a" stroke-width="1.1"/><path d="M304.7 506.7v-3M304.7 283.5v3M312.21 506.7v-3M312.21 283.5v3M319.71 506.7v-3M319.71 283.5v3M327.22 506.7v-3M327.22 283.5v3M342.23 506.7v-3M342.23 283.5v3M349.74 506.7v-3M349.74 283.5v3M357.24 506.7v-3M357.24 283.5v3M364.75 506.7v-3M364.75 283.5v3M379.75 506.7v-3M379.75 283.5v3M387.26 506.7v-3M387.26 283.5v3M394.76 506.7v-3M394.76 283.5v3M402.27 506.7v-3M402.27 283.5v3M417.28 506.7v-3M417.28 283.5v3M424.79 506.7v-3M424.79 283.5v3M432.29 506.7v-3M432.29 283.5v3M439.8 506.7v-3M439.8 283.5v3M297.2 506.7v-5M297.2 283.5v5M334.73 506.7v-5M334.73 283.5v5M372.25 506.7v-5M372.25 283.5v5M409.77 506.7v-5M409.77 283.5v5M447.3 506.7v-5M447.3 283.5v5M297.2 497h3M447.3 497h-3M297.2 458.18h3M447.3 458.18h-3M297.2 438.77h3M447.3 438.77h-3M297.2 419.36h3M447.3 419.36h-3M297.2 399.95h3M447.3 399.95h-3M297.2 361.13h3M447.3 361.13h-3M297.2 341.73h3M447.3 341.73h-3M297.2 322.32h3M447.3 322.32h-3M297.2 302.91h3M447.3 302.91h-3M297.2 477.59h5M447.3 477.59h-5M297.2 380.54h5M447.3 380.54h-5M297.2 283.5h5M447.3 283.5h-5" stroke="#4a4a4a" stroke-width="1" fill="none"/>
<g clip-path="url(#ce)"><path d="M327.22 326.8 L327.82 343.44 L328.42 334.12 L329.02 324.32 L329.62 340.66 L330.22 346.86 L330.82 319.01 L331.42 315.4 L332.02 325.2 L332.62 324.4 L333.22 325.51 L333.82 364.44 L334.42 361.72 L335.03 373.09 L335.63 349.05 L336.23 349.15 L336.83 339.62 L337.43 369.68 L338.03 342.9 L338.63 349.75 L339.23 353.33 L339.83 350.17 L340.43 339.89 L341.03 380.31 L341.63 347.45 L342.23 353.96 L342.83 350.59 L343.43 333.11 L344.03 375.84 L344.63 359.4 L345.23 365.62 L345.83 363.82 L346.43 355.78 L347.03 360.01 L347.63 371.95 L348.23 362.61 L348.83 364.02 L349.43 370.58 L350.04 384.03 L350.64 363.89 L351.24 379.26 L351.84 385.18 L352.44 388.92 L353.04 390.49 L353.64 356.37 L354.24 375.31 L354.84 387.96 L355.44 392.36 L355.96 396.07 L356.11 520.29 L356.34 474.23 L356.94 488.48 L357.54 467.86 L358.14 469.22 L358.74 464.75 L359.34 458.78 L359.94 487.13 L360.54 482.09 L361.14 477.77 L361.74 461.42 L362.34 460.15 L362.94 478.62 L363.54 484.52 L364.14 489.16 L364.75 468.47 L365.35 460.51 L365.95 468.29 L366.55 466.9 L367.15 493.8 L367.75 496.46 L368.35 467.49 L368.95 471.4 L369.55 479.91 L370.15 482.15 L370.75 469.27 L371.35 481.55 L371.95 491.31 L372.55 496.58 L373.15 473.58 L373.75 469.99 L374.35 475.07 L374.95 486.2 L375.55 488.99 L376.15 489.24 L376.75 478.24 L377.35 489.15 L377.95 476.68 L378.55 489.53 L379.15 486.56 L379.75 489.05 L380.36 467.42 L380.96 484.31 L381.56 485.23 L382.16 459.8 L382.76 483.26 L383.36 486 L383.96 468.32 L384.56 490.39 L385.16 485.88 L385.76 458.07 L386.36 480.4 L386.96 460.88 L387.56 484.94 L388.16 475.04 L388.76 470.05 L389.36 483.16 L389.96 495.19 L390.56 468.39 L391.16 465.49 L391.76 465.43 L392.36 491.59 L392.96 490.93 L393.56 466.04 L394.16 454.59 L394.76 494.76 L395.37 473.97 L395.97 470.71 L396.57 473.53 L397.17 460.31 L397.77 483.63 L398.37 476.58 L398.97 503.41 L399.57 488.56 L400.17 461.33 L400.77 481.05 L401.37 493.62 L401.97 482.8 L402.57 482.66 L403.17 486.98 L403.77 468.87 L404.37 485.22 L404.97 479.58 L405.57 483.86 L406.17 472.55 L406.77 450.4 L407.37 468.84 L407.97 475.13 L408.57 476.76 L409.17 470.14 L409.77 489.56 L410.38 481.49 L410.98 488.64 L411.58 477.79 L412.18 475.03 L412.78 478.41 L413.38 481.83 L413.98 491.82 L414.58 479.64 L415.18 503.79 L415.78 470.94 L416.38 476.98 L416.98 490.46 L417.58 471.96 L418.18 489.55 L418.78 450.17 L419.38 487.44 L419.98 470.78 L420.58 488.68 L421.18 466.76 L421.78 484.3 L422.38 475.27 L422.98 479.85 L423.58 463.06 L424.18 493.68 L424.79 455.62 L425.39 492.84 L425.99 503.48 L426.59 496.34 L427.19 480.1 L427.79 475.83 L428.39 479.66 L428.99 495.32 L429.59 501.29 L430.19 481.35 L430.79 462.18 L431.39 477.03 L431.99 468.76 L432.59 489.92 L433.19 478.38 L433.79 472.49 L434.39 493.83 L434.99 470.55 L435.59 477.8 L436.19 477.93 L436.79 471.47 L437.39 481.4 L437.99 493.25 L438.59 478.19 L439.19 471.16 L439.8 470.71 L440.4 487.22 L441 459.17 L441.6 502.87 L442.2 474.58 L442.8 469.34 L443.4 466.73 L444 482.01 L444.6 481.6 L445.2 453.51 L445.8 492.61 L446.4 487.75 L447 474.81" stroke="#e9a9ab" stroke-width="1.0" fill="none" stroke-linejoin="round"/><g fill="#e9a9ab"><circle cx="327.22" cy="326.8" r="2.6"/><circle cx="327.82" cy="343.44" r="2.6"/><circle cx="328.42" cy="334.12" r="2.6"/><circle cx="329.02" cy="324.32" r="2.6"/><circle cx="329.62" cy="340.66" r="2.6"/><circle cx="330.22" cy="346.86" r="2.6"/><circle cx="330.82" cy="319.01" r="2.6"/><circle cx="331.42" cy="315.4" r="2.6"/><circle cx="332.02" cy="325.2" r="2.6"/><circle cx="332.62" cy="324.4" r="2.6"/><circle cx="333.22" cy="325.51" r="2.6"/><circle cx="333.82" cy="364.44" r="2.6"/><circle cx="334.42" cy="361.72" r="2.6"/><circle cx="335.03" cy="373.09" r="2.6"/><circle cx="335.63" cy="349.05" r="2.6"/><circle cx="336.23" cy="349.15" r="2.6"/><circle cx="336.83" cy="339.62" r="2.6"/><circle cx="337.43" cy="369.68" r="2.6"/><circle cx="338.03" cy="342.9" r="2.6"/><circle cx="338.63" cy="349.75" r="2.6"/><circle cx="339.23" cy="353.33" r="2.6"/><circle cx="339.83" cy="350.17" r="2.6"/><circle cx="340.43" cy="339.89" r="2.6"/><circle cx="341.03" cy="380.31" r="2.6"/><circle cx="341.63" cy="347.45" r="2.6"/><circle cx="342.23" cy="353.96" r="2.6"/><circle cx="342.83" cy="350.59" r="2.6"/><circle cx="343.43" cy="333.11" r="2.6"/><circle cx="344.03" cy="375.84" r="2.6"/><circle cx="344.63" cy="359.4" r="2.6"/><circle cx="345.23" cy="365.62" r="2.6"/><circle cx="345.83" cy="363.82" r="2.6"/><circle cx="346.43" cy="355.78" r="2.6"/><circle cx="347.03" cy="360.01" r="2.6"/><circle cx="347.63" cy="371.95" r="2.6"/><circle cx="348.23" cy="362.61" r="2.6"/><circle cx="348.83" cy="364.02" r="2.6"/><circle cx="349.43" cy="370.58" r="2.6"/><circle cx="350.04" cy="384.03" r="2.6"/><circle cx="350.64" cy="363.89" r="2.6"/><circle cx="351.24" cy="379.26" r="2.6"/><circle cx="351.84" cy="385.18" r="2.6"/><circle cx="352.44" cy="388.92" r="2.6"/><circle cx="353.04" cy="390.49" r="2.6"/><circle cx="353.64" cy="356.37" r="2.6"/><circle cx="354.24" cy="375.31" r="2.6"/><circle cx="354.84" cy="387.96" r="2.6"/><circle cx="355.44" cy="392.36" r="2.6"/><circle cx="355.96" cy="396.07" r="2.6"/><circle cx="356.11" cy="520.29" r="2.6"/><circle cx="356.34" cy="474.23" r="2.6"/><circle cx="356.94" cy="488.48" r="2.6"/><circle cx="357.54" cy="467.86" r="2.6"/><circle cx="358.14" cy="469.22" r="2.6"/><circle cx="358.74" cy="464.75" r="2.6"/><circle cx="359.34" cy="458.78" r="2.6"/><circle cx="359.94" cy="487.13" r="2.6"/><circle cx="360.54" cy="482.09" r="2.6"/><circle cx="361.14" cy="477.77" r="2.6"/><circle cx="361.74" cy="461.42" r="2.6"/><circle cx="362.34" cy="460.15" r="2.6"/><circle cx="362.94" cy="478.62" r="2.6"/><circle cx="363.54" cy="484.52" r="2.6"/><circle cx="364.14" cy="489.16" r="2.6"/><circle cx="364.75" cy="468.47" r="2.6"/><circle cx="365.35" cy="460.51" r="2.6"/><circle cx="365.95" cy="468.29" r="2.6"/><circle cx="366.55" cy="466.9" r="2.6"/><circle cx="367.15" cy="493.8" r="2.6"/><circle cx="367.75" cy="496.46" r="2.6"/><circle cx="368.35" cy="467.49" r="2.6"/><circle cx="368.95" cy="471.4" r="2.6"/><circle cx="369.55" cy="479.91" r="2.6"/><circle cx="370.15" cy="482.15" r="2.6"/><circle cx="370.75" cy="469.27" r="2.6"/><circle cx="371.35" cy="481.55" r="2.6"/><circle cx="371.95" cy="491.31" r="2.6"/><circle cx="372.55" cy="496.58" r="2.6"/><circle cx="373.15" cy="473.58" r="2.6"/><circle cx="373.75" cy="469.99" r="2.6"/><circle cx="374.35" cy="475.07" r="2.6"/><circle cx="374.95" cy="486.2" r="2.6"/><circle cx="375.55" cy="488.99" r="2.6"/><circle cx="376.15" cy="489.24" r="2.6"/><circle cx="376.75" cy="478.24" r="2.6"/><circle cx="377.35" cy="489.15" r="2.6"/><circle cx="377.95" cy="476.68" r="2.6"/><circle cx="378.55" cy="489.53" r="2.6"/><circle cx="379.15" cy="486.56" r="2.6"/><circle cx="379.75" cy="489.05" r="2.6"/><circle cx="380.36" cy="467.42" r="2.6"/><circle cx="380.96" cy="484.31" r="2.6"/><circle cx="381.56" cy="485.23" r="2.6"/><circle cx="382.16" cy="459.8" r="2.6"/><circle cx="382.76" cy="483.26" r="2.6"/><circle cx="383.36" cy="486" r="2.6"/><circle cx="383.96" cy="468.32" r="2.6"/><circle cx="384.56" cy="490.39" r="2.6"/><circle cx="385.16" cy="485.88" r="2.6"/><circle cx="385.76" cy="458.07" r="2.6"/><circle cx="386.36" cy="480.4" r="2.6"/><circle cx="386.96" cy="460.88" r="2.6"/><circle cx="387.56" cy="484.94" r="2.6"/><circle cx="388.16" cy="475.04" r="2.6"/><circle cx="388.76" cy="470.05" r="2.6"/><circle cx="389.36" cy="483.16" r="2.6"/><circle cx="389.96" cy="495.19" r="2.6"/><circle cx="390.56" cy="468.39" r="2.6"/><circle cx="391.16" cy="465.49" r="2.6"/><circle cx="391.76" cy="465.43" r="2.6"/><circle cx="392.36" cy="491.59" r="2.6"/><circle cx="392.96" cy="490.93" r="2.6"/><circle cx="393.56" cy="466.04" r="2.6"/><circle cx="394.16" cy="454.59" r="2.6"/><circle cx="394.76" cy="494.76" r="2.6"/><circle cx="395.37" cy="473.97" r="2.6"/><circle cx="395.97" cy="470.71" r="2.6"/><circle cx="396.57" cy="473.53" r="2.6"/><circle cx="397.17" cy="460.31" r="2.6"/><circle cx="397.77" cy="483.63" r="2.6"/><circle cx="398.37" cy="476.58" r="2.6"/><circle cx="398.97" cy="503.41" r="2.6"/><circle cx="399.57" cy="488.56" r="2.6"/><circle cx="400.17" cy="461.33" r="2.6"/><circle cx="400.77" cy="481.05" r="2.6"/><circle cx="401.37" cy="493.62" r="2.6"/><circle cx="401.97" cy="482.8" r="2.6"/><circle cx="402.57" cy="482.66" r="2.6"/><circle cx="403.17" cy="486.98" r="2.6"/><circle cx="403.77" cy="468.87" r="2.6"/><circle cx="404.37" cy="485.22" r="2.6"/><circle cx="404.97" cy="479.58" r="2.6"/><circle cx="405.57" cy="483.86" r="2.6"/><circle cx="406.17" cy="472.55" r="2.6"/><circle cx="406.77" cy="450.4" r="2.6"/><circle cx="407.37" cy="468.84" r="2.6"/><circle cx="407.97" cy="475.13" r="2.6"/><circle cx="408.57" cy="476.76" r="2.6"/><circle cx="409.17" cy="470.14" r="2.6"/><circle cx="409.77" cy="489.56" r="2.6"/><circle cx="410.38" cy="481.49" r="2.6"/><circle cx="410.98" cy="488.64" r="2.6"/><circle cx="411.58" cy="477.79" r="2.6"/><circle cx="412.18" cy="475.03" r="2.6"/><circle cx="412.78" cy="478.41" r="2.6"/><circle cx="413.38" cy="481.83" r="2.6"/><circle cx="413.98" cy="491.82" r="2.6"/><circle cx="414.58" cy="479.64" r="2.6"/><circle cx="415.18" cy="503.79" r="2.6"/><circle cx="415.78" cy="470.94" r="2.6"/><circle cx="416.38" cy="476.98" r="2.6"/><circle cx="416.98" cy="490.46" r="2.6"/><circle cx="417.58" cy="471.96" r="2.6"/><circle cx="418.18" cy="489.55" r="2.6"/><circle cx="418.78" cy="450.17" r="2.6"/><circle cx="419.38" cy="487.44" r="2.6"/><circle cx="419.98" cy="470.78" r="2.6"/><circle cx="420.58" cy="488.68" r="2.6"/><circle cx="421.18" cy="466.76" r="2.6"/><circle cx="421.78" cy="484.3" r="2.6"/><circle cx="422.38" cy="475.27" r="2.6"/><circle cx="422.98" cy="479.85" r="2.6"/><circle cx="423.58" cy="463.06" r="2.6"/><circle cx="424.18" cy="493.68" r="2.6"/><circle cx="424.79" cy="455.62" r="2.6"/><circle cx="425.39" cy="492.84" r="2.6"/><circle cx="425.99" cy="503.48" r="2.6"/><circle cx="426.59" cy="496.34" r="2.6"/><circle cx="427.19" cy="480.1" r="2.6"/><circle cx="427.79" cy="475.83" r="2.6"/><circle cx="428.39" cy="479.66" r="2.6"/><circle cx="428.99" cy="495.32" r="2.6"/><circle cx="429.59" cy="501.29" r="2.6"/><circle cx="430.19" cy="481.35" r="2.6"/><circle cx="430.79" cy="462.18" r="2.6"/><circle cx="431.39" cy="477.03" r="2.6"/><circle cx="431.99" cy="468.76" r="2.6"/><circle cx="432.59" cy="489.92" r="2.6"/><circle cx="433.19" cy="478.38" r="2.6"/><circle cx="433.79" cy="472.49" r="2.6"/><circle cx="434.39" cy="493.83" r="2.6"/><circle cx="434.99" cy="470.55" r="2.6"/><circle cx="435.59" cy="477.8" r="2.6"/><circle cx="436.19" cy="477.93" r="2.6"/><circle cx="436.79" cy="471.47" r="2.6"/><circle cx="437.39" cy="481.4" r="2.6"/><circle cx="437.99" cy="493.25" r="2.6"/><circle cx="438.59" cy="478.19" r="2.6"/><circle cx="439.19" cy="471.16" r="2.6"/><circle cx="439.8" cy="470.71" r="2.6"/><circle cx="440.4" cy="487.22" r="2.6"/><circle cx="441" cy="459.17" r="2.6"/><circle cx="441.6" cy="502.87" r="2.6"/><circle cx="442.2" cy="474.58" r="2.6"/><circle cx="442.8" cy="469.34" r="2.6"/><circle cx="443.4" cy="466.73" r="2.6"/><circle cx="444" cy="482.01" r="2.6"/><circle cx="444.6" cy="481.6" r="2.6"/><circle cx="445.2" cy="453.51" r="2.6"/><circle cx="445.8" cy="492.61" r="2.6"/><circle cx="446.4" cy="487.75" r="2.6"/><circle cx="447" cy="474.81" r="2.6"/></g></g>
<g clip-path="url(#ce)"><path d="M327.22 323.37 L327.82 313.25 L328.42 334.79 L329.02 331.95 L329.62 334.1 L330.22 338.64 L330.82 340.17 L331.42 337.56 L332.02 332.76 L332.62 349.79 L333.22 340.57 L333.82 336.38 L334.42 327.75 L335.03 324.6 L335.63 336.77 L336.23 347.74 L336.83 346.23 L337.43 335.38 L338.03 313.04 L338.63 326.44 L339.23 324.88 L339.83 344.36 L340.43 341.13 L341.03 307.45 L341.63 327.8 L342.23 332.73 L342.83 333.45 L343.43 348.92 L344.03 348.07 L344.63 334.47 L345.23 338.11 L345.83 349.22 L346.43 358.44 L347.03 317.99 L347.63 346.8 L348.23 342.85 L348.83 330.11 L349.43 325.67 L350.04 347.86 L350.64 324.88 L351.24 355.22 L351.84 315.6 L352.44 327.31 L353.04 348.05 L353.64 314.5 L354.24 331.83 L354.84 340.82 L355.44 330.52 L356.04 351.25 L356.64 340.64 L357.24 338.3 L357.84 320.45 L358.44 339.19 L359.04 344.42 L359.64 337.11 L360.24 307.26 L360.84 325.36 L361.44 356.75 L362.04 348.6 L362.64 336.96 L363.24 335.15 L363.84 329.7 L364.44 316.41 L365.05 338.03 L365.65 330.82 L366.25 322.95 L366.85 328.09 L367.45 347.01 L368.05 340.64 L368.65 347.09 L369.25 327.42 L369.85 315.68 L370.45 333.54 L371.05 338.28 L371.65 320.66 L372.25 349.3 L372.85 312.62 L373.45 339.47 L374.05 327.22 L374.65 328.04 L375.25 331.58 L375.85 341.31 L376.45 315.57 L376.75 349.44 L377.35 353.84 L377.95 340.46 L378.55 344.75 L379.15 338.85 L379.75 343.08 L380.36 333.27 L380.96 348.51 L381.56 346.94 L382.16 355.9 L382.76 348.63 L383.36 346.97 L383.96 350.48 L384.56 368.61 L385.16 333.03 L385.76 354.38 L386.36 362.73 L386.96 373.9 L387.56 371.06 L388.16 361.42 L388.76 359.31 L389.36 355.09 L389.96 373.79 L390.56 355.2 L391.16 378.2 L391.91 401.89 L391.99 407.72 L392.06 413.54 L392.21 520.29 L392.51 450.9 L393.11 482.52 L393.71 464.67 L394.31 494.81 L394.92 468.23 L395.52 481.23 L396.12 473.39 L396.72 460.27 L397.32 476.53 L397.92 457.7 L398.52 479.52 L399.12 454.62 L399.72 483.48 L400.32 454.3 L400.92 456.17 L401.52 484.32 L402.12 470.8 L402.72 461.5 L403.32 466.13 L403.92 487.72 L404.52 491.75 L405.12 492.6 L405.72 491.09 L406.32 477.96 L406.92 466.03 L407.52 478.29 L408.12 483.49 L408.72 466.94 L409.32 479.5 L409.93 480.42 L410.53 478.66 L411.13 485.79 L411.73 449.4 L412.33 479.75 L412.93 481.61 L413.53 465.38 L414.13 474.55 L414.73 475.62 L415.33 481.22 L415.93 474.6 L416.53 471.48 L417.13 478.92 L417.73 463.03 L417.88 522.23 L418.48 457.85 L419.08 456.22 L419.68 492.58 L420.28 462.3 L420.88 480.31 L421.48 475.25 L422.08 474.84 L422.68 465.62 L423.28 480.15 L423.88 470.91 L424.48 455.43 L425.09 459.99 L425.69 491.93 L426.29 480.99 L426.89 476.57 L427.49 475.41 L428.09 471.07 L428.69 470.21 L429.29 486.2 L429.89 448.55 L430.49 453.05 L431.09 457.71 L431.69 468.76 L432.29 491.15 L432.89 460.7 L433.49 460.43 L434.09 471.58 L434.69 463.6 L435.29 450.37 L435.89 488.71 L436.49 461.9 L437.09 461.2 L437.69 488.32 L438.29 476.68 L438.89 461.61 L439.49 481.35 L440.1 445.19 L440.7 460.51 L441.3 486.47 L441.9 471.05 L442.5 462.89 L443.1 475.65 L443.7 465 L444.3 488.27 L444.9 462.59 L445.5 469.88 L446.1 477.56 L446.7 458.46 L447.3 466.19" stroke="#b0080c" stroke-width="1.0" fill="none" stroke-linejoin="round"/><g fill="#b0080c"><circle cx="327.22" cy="323.37" r="2.6"/><circle cx="327.82" cy="313.25" r="2.6"/><circle cx="328.42" cy="334.79" r="2.6"/><circle cx="329.02" cy="331.95" r="2.6"/><circle cx="329.62" cy="334.1" r="2.6"/><circle cx="330.22" cy="338.64" r="2.6"/><circle cx="330.82" cy="340.17" r="2.6"/><circle cx="331.42" cy="337.56" r="2.6"/><circle cx="332.02" cy="332.76" r="2.6"/><circle cx="332.62" cy="349.79" r="2.6"/><circle cx="333.22" cy="340.57" r="2.6"/><circle cx="333.82" cy="336.38" r="2.6"/><circle cx="334.42" cy="327.75" r="2.6"/><circle cx="335.03" cy="324.6" r="2.6"/><circle cx="335.63" cy="336.77" r="2.6"/><circle cx="336.23" cy="347.74" r="2.6"/><circle cx="336.83" cy="346.23" r="2.6"/><circle cx="337.43" cy="335.38" r="2.6"/><circle cx="338.03" cy="313.04" r="2.6"/><circle cx="338.63" cy="326.44" r="2.6"/><circle cx="339.23" cy="324.88" r="2.6"/><circle cx="339.83" cy="344.36" r="2.6"/><circle cx="340.43" cy="341.13" r="2.6"/><circle cx="341.03" cy="307.45" r="2.6"/><circle cx="341.63" cy="327.8" r="2.6"/><circle cx="342.23" cy="332.73" r="2.6"/><circle cx="342.83" cy="333.45" r="2.6"/><circle cx="343.43" cy="348.92" r="2.6"/><circle cx="344.03" cy="348.07" r="2.6"/><circle cx="344.63" cy="334.47" r="2.6"/><circle cx="345.23" cy="338.11" r="2.6"/><circle cx="345.83" cy="349.22" r="2.6"/><circle cx="346.43" cy="358.44" r="2.6"/><circle cx="347.03" cy="317.99" r="2.6"/><circle cx="347.63" cy="346.8" r="2.6"/><circle cx="348.23" cy="342.85" r="2.6"/><circle cx="348.83" cy="330.11" r="2.6"/><circle cx="349.43" cy="325.67" r="2.6"/><circle cx="350.04" cy="347.86" r="2.6"/><circle cx="350.64" cy="324.88" r="2.6"/><circle cx="351.24" cy="355.22" r="2.6"/><circle cx="351.84" cy="315.6" r="2.6"/><circle cx="352.44" cy="327.31" r="2.6"/><circle cx="353.04" cy="348.05" r="2.6"/><circle cx="353.64" cy="314.5" r="2.6"/><circle cx="354.24" cy="331.83" r="2.6"/><circle cx="354.84" cy="340.82" r="2.6"/><circle cx="355.44" cy="330.52" r="2.6"/><circle cx="356.04" cy="351.25" r="2.6"/><circle cx="356.64" cy="340.64" r="2.6"/><circle cx="357.24" cy="338.3" r="2.6"/><circle cx="357.84" cy="320.45" r="2.6"/><circle cx="358.44" cy="339.19" r="2.6"/><circle cx="359.04" cy="344.42" r="2.6"/><circle cx="359.64" cy="337.11" r="2.6"/><circle cx="360.24" cy="307.26" r="2.6"/><circle cx="360.84" cy="325.36" r="2.6"/><circle cx="361.44" cy="356.75" r="2.6"/><circle cx="362.04" cy="348.6" r="2.6"/><circle cx="362.64" cy="336.96" r="2.6"/><circle cx="363.24" cy="335.15" r="2.6"/><circle cx="363.84" cy="329.7" r="2.6"/><circle cx="364.44" cy="316.41" r="2.6"/><circle cx="365.05" cy="338.03" r="2.6"/><circle cx="365.65" cy="330.82" r="2.6"/><circle cx="366.25" cy="322.95" r="2.6"/><circle cx="366.85" cy="328.09" r="2.6"/><circle cx="367.45" cy="347.01" r="2.6"/><circle cx="368.05" cy="340.64" r="2.6"/><circle cx="368.65" cy="347.09" r="2.6"/><circle cx="369.25" cy="327.42" r="2.6"/><circle cx="369.85" cy="315.68" r="2.6"/><circle cx="370.45" cy="333.54" r="2.6"/><circle cx="371.05" cy="338.28" r="2.6"/><circle cx="371.65" cy="320.66" r="2.6"/><circle cx="372.25" cy="349.3" r="2.6"/><circle cx="372.85" cy="312.62" r="2.6"/><circle cx="373.45" cy="339.47" r="2.6"/><circle cx="374.05" cy="327.22" r="2.6"/><circle cx="374.65" cy="328.04" r="2.6"/><circle cx="375.25" cy="331.58" r="2.6"/><circle cx="375.85" cy="341.31" r="2.6"/><circle cx="376.45" cy="315.57" r="2.6"/><circle cx="376.75" cy="349.44" r="2.6"/><circle cx="377.35" cy="353.84" r="2.6"/><circle cx="377.95" cy="340.46" r="2.6"/><circle cx="378.55" cy="344.75" r="2.6"/><circle cx="379.15" cy="338.85" r="2.6"/><circle cx="379.75" cy="343.08" r="2.6"/><circle cx="380.36" cy="333.27" r="2.6"/><circle cx="380.96" cy="348.51" r="2.6"/><circle cx="381.56" cy="346.94" r="2.6"/><circle cx="382.16" cy="355.9" r="2.6"/><circle cx="382.76" cy="348.63" r="2.6"/><circle cx="383.36" cy="346.97" r="2.6"/><circle cx="383.96" cy="350.48" r="2.6"/><circle cx="384.56" cy="368.61" r="2.6"/><circle cx="385.16" cy="333.03" r="2.6"/><circle cx="385.76" cy="354.38" r="2.6"/><circle cx="386.36" cy="362.73" r="2.6"/><circle cx="386.96" cy="373.9" r="2.6"/><circle cx="387.56" cy="371.06" r="2.6"/><circle cx="388.16" cy="361.42" r="2.6"/><circle cx="388.76" cy="359.31" r="2.6"/><circle cx="389.36" cy="355.09" r="2.6"/><circle cx="389.96" cy="373.79" r="2.6"/><circle cx="390.56" cy="355.2" r="2.6"/><circle cx="391.16" cy="378.2" r="2.6"/><circle cx="391.91" cy="401.89" r="2.6"/><circle cx="391.99" cy="407.72" r="2.6"/><circle cx="392.06" cy="413.54" r="2.6"/><circle cx="392.21" cy="520.29" r="2.6"/><circle cx="392.51" cy="450.9" r="2.6"/><circle cx="393.11" cy="482.52" r="2.6"/><circle cx="393.71" cy="464.67" r="2.6"/><circle cx="394.31" cy="494.81" r="2.6"/><circle cx="394.92" cy="468.23" r="2.6"/><circle cx="395.52" cy="481.23" r="2.6"/><circle cx="396.12" cy="473.39" r="2.6"/><circle cx="396.72" cy="460.27" r="2.6"/><circle cx="397.32" cy="476.53" r="2.6"/><circle cx="397.92" cy="457.7" r="2.6"/><circle cx="398.52" cy="479.52" r="2.6"/><circle cx="399.12" cy="454.62" r="2.6"/><circle cx="399.72" cy="483.48" r="2.6"/><circle cx="400.32" cy="454.3" r="2.6"/><circle cx="400.92" cy="456.17" r="2.6"/><circle cx="401.52" cy="484.32" r="2.6"/><circle cx="402.12" cy="470.8" r="2.6"/><circle cx="402.72" cy="461.5" r="2.6"/><circle cx="403.32" cy="466.13" r="2.6"/><circle cx="403.92" cy="487.72" r="2.6"/><circle cx="404.52" cy="491.75" r="2.6"/><circle cx="405.12" cy="492.6" r="2.6"/><circle cx="405.72" cy="491.09" r="2.6"/><circle cx="406.32" cy="477.96" r="2.6"/><circle cx="406.92" cy="466.03" r="2.6"/><circle cx="407.52" cy="478.29" r="2.6"/><circle cx="408.12" cy="483.49" r="2.6"/><circle cx="408.72" cy="466.94" r="2.6"/><circle cx="409.32" cy="479.5" r="2.6"/><circle cx="409.93" cy="480.42" r="2.6"/><circle cx="410.53" cy="478.66" r="2.6"/><circle cx="411.13" cy="485.79" r="2.6"/><circle cx="411.73" cy="449.4" r="2.6"/><circle cx="412.33" cy="479.75" r="2.6"/><circle cx="412.93" cy="481.61" r="2.6"/><circle cx="413.53" cy="465.38" r="2.6"/><circle cx="414.13" cy="474.55" r="2.6"/><circle cx="414.73" cy="475.62" r="2.6"/><circle cx="415.33" cy="481.22" r="2.6"/><circle cx="415.93" cy="474.6" r="2.6"/><circle cx="416.53" cy="471.48" r="2.6"/><circle cx="417.13" cy="478.92" r="2.6"/><circle cx="417.73" cy="463.03" r="2.6"/><circle cx="417.88" cy="522.23" r="2.6"/><circle cx="418.48" cy="457.85" r="2.6"/><circle cx="419.08" cy="456.22" r="2.6"/><circle cx="419.68" cy="492.58" r="2.6"/><circle cx="420.28" cy="462.3" r="2.6"/><circle cx="420.88" cy="480.31" r="2.6"/><circle cx="421.48" cy="475.25" r="2.6"/><circle cx="422.08" cy="474.84" r="2.6"/><circle cx="422.68" cy="465.62" r="2.6"/><circle cx="423.28" cy="480.15" r="2.6"/><circle cx="423.88" cy="470.91" r="2.6"/><circle cx="424.48" cy="455.43" r="2.6"/><circle cx="425.09" cy="459.99" r="2.6"/><circle cx="425.69" cy="491.93" r="2.6"/><circle cx="426.29" cy="480.99" r="2.6"/><circle cx="426.89" cy="476.57" r="2.6"/><circle cx="427.49" cy="475.41" r="2.6"/><circle cx="428.09" cy="471.07" r="2.6"/><circle cx="428.69" cy="470.21" r="2.6"/><circle cx="429.29" cy="486.2" r="2.6"/><circle cx="429.89" cy="448.55" r="2.6"/><circle cx="430.49" cy="453.05" r="2.6"/><circle cx="431.09" cy="457.71" r="2.6"/><circle cx="431.69" cy="468.76" r="2.6"/><circle cx="432.29" cy="491.15" r="2.6"/><circle cx="432.89" cy="460.7" r="2.6"/><circle cx="433.49" cy="460.43" r="2.6"/><circle cx="434.09" cy="471.58" r="2.6"/><circle cx="434.69" cy="463.6" r="2.6"/><circle cx="435.29" cy="450.37" r="2.6"/><circle cx="435.89" cy="488.71" r="2.6"/><circle cx="436.49" cy="461.9" r="2.6"/><circle cx="437.09" cy="461.2" r="2.6"/><circle cx="437.69" cy="488.32" r="2.6"/><circle cx="438.29" cy="476.68" r="2.6"/><circle cx="438.89" cy="461.61" r="2.6"/><circle cx="439.49" cy="481.35" r="2.6"/><circle cx="440.1" cy="445.19" r="2.6"/><circle cx="440.7" cy="460.51" r="2.6"/><circle cx="441.3" cy="486.47" r="2.6"/><circle cx="441.9" cy="471.05" r="2.6"/><circle cx="442.5" cy="462.89" r="2.6"/><circle cx="443.1" cy="475.65" r="2.6"/><circle cx="443.7" cy="465" r="2.6"/><circle cx="444.3" cy="488.27" r="2.6"/><circle cx="444.9" cy="462.59" r="2.6"/><circle cx="445.5" cy="469.88" r="2.6"/><circle cx="446.1" cy="477.56" r="2.6"/><circle cx="446.7" cy="458.46" r="2.6"/><circle cx="447.3" cy="466.19" r="2.6"/></g></g>
<path d="M306.1 414H333.6V411.3L347.2 415.8L333.6 420.3V417.6H306.1Z" fill="#000"/><path d="M347.2 421.6H319.7V418.9L306.1 423.4L319.7 427.9V425.2H347.2Z" fill="#000"/>
<path d="M396.1 375.1H424.1V372.4L437.7 376.9L424.1 381.4V378.7H396.1Z" fill="#000"/><path d="M396.1 383H424.1V380.3L437.7 384.8L424.1 389.3V386.6H396.1Z" fill="#000"/>
<path d="M305 479.2L311.5 485.2L318 479.2L311.5 495.8Z" fill="#b0080c"/>
<rect x="526.6" y="5.6" width="150.1" height="223.1" fill="none" stroke="#4a4a4a" stroke-width="1.1"/><path d="M534.11 228.7v-3M534.11 5.6v3M541.61 228.7v-3M541.61 5.6v3M549.12 228.7v-3M549.12 5.6v3M556.62 228.7v-3M556.62 5.6v3M571.63 228.7v-3M571.63 5.6v3M579.13 228.7v-3M579.13 5.6v3M586.64 228.7v-3M586.64 5.6v3M594.14 228.7v-3M594.14 5.6v3M609.16 228.7v-3M609.16 5.6v3M616.66 228.7v-3M616.66 5.6v3M624.17 228.7v-3M624.17 5.6v3M631.67 228.7v-3M631.67 5.6v3M646.68 228.7v-3M646.68 5.6v3M654.19 228.7v-3M654.19 5.6v3M661.69 228.7v-3M661.69 5.6v3M669.2 228.7v-3M669.2 5.6v3M526.6 228.7v-5M526.6 5.6v5M564.12 228.7v-5M564.12 5.6v5M601.65 228.7v-5M601.65 5.6v5M639.18 228.7v-5M639.18 5.6v5M676.7 228.7v-5M676.7 5.6v5M526.6 213.83h3M676.7 213.83h-3M526.6 198.95h3M676.7 198.95h-3M526.6 184.08h3M676.7 184.08h-3M526.6 169.21h3M676.7 169.21h-3M526.6 139.46h3M676.7 139.46h-3M526.6 124.59h3M676.7 124.59h-3M526.6 109.71h3M676.7 109.71h-3M526.6 94.84h3M676.7 94.84h-3M526.6 65.09h3M676.7 65.09h-3M526.6 50.22h3M676.7 50.22h-3M526.6 35.35h3M676.7 35.35h-3M526.6 20.47h3M676.7 20.47h-3M526.6 228.7h5M676.7 228.7h-5M526.6 154.33h5M676.7 154.33h-5M526.6 79.97h5M676.7 79.97h-5M526.6 5.6h5M676.7 5.6h-5" stroke="#4a4a4a" stroke-width="1" fill="none"/>
<g clip-path="url(#cc)"><path d="M556.62 103.58 L557.22 99.78 L557.82 104.32 L558.42 114.42 L559.02 122.41 L559.62 115.69 L560.22 129.37 L560.82 108.92 L561.42 115.47 L562.02 126.07 L562.62 134.38 L563.22 126.32 L563.82 127.71 L564.43 127.92 L565.03 135.06 L565.63 122.03 L566.23 115.47 L566.83 139.43 L567.43 136.71 L568.03 141.47 L568.63 130.67 L569.23 140.66 L569.83 142.58 L570.43 137.01 L571.03 156.54 L571.63 153.1 L572.23 151.32 L572.83 163.96 L573.43 153.49 L574.03 163.74 L574.63 153.2 L575.23 140.19 L575.83 157.19 L576.43 139.49 L577.03 160.01 L577.63 150.56 L578.23 173.45 L578.83 159.48 L579.44 178.59 L580.04 155 L580.64 155.5 L581.24 176.3 L581.84 159.25 L582.44 162 L583.04 177.44 L583.64 173.63 L584.24 161.84 L584.84 161.81 L585.44 186.9 L586.04 156.28 L586.64 177.4 L587.24 173.54 L587.84 187.06 L588.44 169.25 L589.04 159.22 L589.64 173.33 L590.84 189.29 L593.24 172.92 L594.14 130.02 L594.45 112.69 L594.75 101.88 L595.35 99.01 L595.95 85.84 L596.55 78.26 L597.15 77.69 L597.75 78.86 L598.35 76.89 L598.95 75.22 L599.55 75.4 L600.15 62.75 L600.75 57.09 L601.35 66.13 L601.95 69.2 L602.55 65.73 L603.15 58.59 L603.75 56.8 L604.35 50.77 L604.95 39.03 L605.55 38.26 L606.15 50.44 L606.75 34.95 L607.35 34.13 L607.95 31 L608.55 35.83 L609.16 33.45 L609.76 35.05 L610.36 27.07 L610.96 34.63 L611.56 25.13 L612.16 31.53 L612.76 21.53 L613.36 33.59 L613.96 19.97 L614.56 26.03 L615.16 11.42 L615.76 14.78 L616.36 3.07 L616.96 0.12 L617.56 -16.71" stroke="#b0b0e8" stroke-width="1.0" fill="none" stroke-linejoin="round"/><g fill="#b0b0e8"><circle cx="556.62" cy="103.58" r="2.6"/><circle cx="557.22" cy="99.78" r="2.6"/><circle cx="557.82" cy="104.32" r="2.6"/><circle cx="558.42" cy="114.42" r="2.6"/><circle cx="559.02" cy="122.41" r="2.6"/><circle cx="559.62" cy="115.69" r="2.6"/><circle cx="560.22" cy="129.37" r="2.6"/><circle cx="560.82" cy="108.92" r="2.6"/><circle cx="561.42" cy="115.47" r="2.6"/><circle cx="562.02" cy="126.07" r="2.6"/><circle cx="562.62" cy="134.38" r="2.6"/><circle cx="563.22" cy="126.32" r="2.6"/><circle cx="563.82" cy="127.71" r="2.6"/><circle cx="564.43" cy="127.92" r="2.6"/><circle cx="565.03" cy="135.06" r="2.6"/><circle cx="565.63" cy="122.03" r="2.6"/><circle cx="566.23" cy="115.47" r="2.6"/><circle cx="566.83" cy="139.43" r="2.6"/><circle cx="567.43" cy="136.71" r="2.6"/><circle cx="568.03" cy="141.47" r="2.6"/><circle cx="568.63" cy="130.67" r="2.6"/><circle cx="569.23" cy="140.66" r="2.6"/><circle cx="569.83" cy="142.58" r="2.6"/><circle cx="570.43" cy="137.01" r="2.6"/><circle cx="571.03" cy="156.54" r="2.6"/><circle cx="571.63" cy="153.1" r="2.6"/><circle cx="572.23" cy="151.32" r="2.6"/><circle cx="572.83" cy="163.96" r="2.6"/><circle cx="573.43" cy="153.49" r="2.6"/><circle cx="574.03" cy="163.74" r="2.6"/><circle cx="574.63" cy="153.2" r="2.6"/><circle cx="575.23" cy="140.19" r="2.6"/><circle cx="575.83" cy="157.19" r="2.6"/><circle cx="576.43" cy="139.49" r="2.6"/><circle cx="577.03" cy="160.01" r="2.6"/><circle cx="577.63" cy="150.56" r="2.6"/><circle cx="578.23" cy="173.45" r="2.6"/><circle cx="578.83" cy="159.48" r="2.6"/><circle cx="579.44" cy="178.59" r="2.6"/><circle cx="580.04" cy="155" r="2.6"/><circle cx="580.64" cy="155.5" r="2.6"/><circle cx="581.24" cy="176.3" r="2.6"/><circle cx="581.84" cy="159.25" r="2.6"/><circle cx="582.44" cy="162" r="2.6"/><circle cx="583.04" cy="177.44" r="2.6"/><circle cx="583.64" cy="173.63" r="2.6"/><circle cx="584.24" cy="161.84" r="2.6"/><circle cx="584.84" cy="161.81" r="2.6"/><circle cx="585.44" cy="186.9" r="2.6"/><circle cx="586.04" cy="156.28" r="2.6"/><circle cx="586.64" cy="177.4" r="2.6"/><circle cx="587.24" cy="173.54" r="2.6"/><circle cx="587.84" cy="187.06" r="2.6"/><circle cx="588.44" cy="169.25" r="2.6"/><circle cx="589.04" cy="159.22" r="2.6"/><circle cx="589.64" cy="173.33" r="2.6"/><circle cx="590.84" cy="189.29" r="2.6"/><circle cx="593.24" cy="172.92" r="2.6"/><circle cx="594.14" cy="130.02" r="2.6"/><circle cx="594.45" cy="112.69" r="2.6"/><circle cx="594.75" cy="101.88" r="2.6"/><circle cx="595.35" cy="99.01" r="2.6"/><circle cx="595.95" cy="85.84" r="2.6"/><circle cx="596.55" cy="78.26" r="2.6"/><circle cx="597.15" cy="77.69" r="2.6"/><circle cx="597.75" cy="78.86" r="2.6"/><circle cx="598.35" cy="76.89" r="2.6"/><circle cx="598.95" cy="75.22" r="2.6"/><circle cx="599.55" cy="75.4" r="2.6"/><circle cx="600.15" cy="62.75" r="2.6"/><circle cx="600.75" cy="57.09" r="2.6"/><circle cx="601.35" cy="66.13" r="2.6"/><circle cx="601.95" cy="69.2" r="2.6"/><circle cx="602.55" cy="65.73" r="2.6"/><circle cx="603.15" cy="58.59" r="2.6"/><circle cx="603.75" cy="56.8" r="2.6"/><circle cx="604.35" cy="50.77" r="2.6"/><circle cx="604.95" cy="39.03" r="2.6"/><circle cx="605.55" cy="38.26" r="2.6"/><circle cx="606.15" cy="50.44" r="2.6"/><circle cx="606.75" cy="34.95" r="2.6"/><circle cx="607.35" cy="34.13" r="2.6"/><circle cx="607.95" cy="31" r="2.6"/><circle cx="608.55" cy="35.83" r="2.6"/><circle cx="609.16" cy="33.45" r="2.6"/><circle cx="609.76" cy="35.05" r="2.6"/><circle cx="610.36" cy="27.07" r="2.6"/><circle cx="610.96" cy="34.63" r="2.6"/><circle cx="611.56" cy="25.13" r="2.6"/><circle cx="612.16" cy="31.53" r="2.6"/><circle cx="612.76" cy="21.53" r="2.6"/><circle cx="613.36" cy="33.59" r="2.6"/><circle cx="613.96" cy="19.97" r="2.6"/><circle cx="614.56" cy="26.03" r="2.6"/><circle cx="615.16" cy="11.42" r="2.6"/><circle cx="615.76" cy="14.78" r="2.6"/><circle cx="616.36" cy="3.07" r="2.6"/><circle cx="616.96" cy="0.12" r="2.6"/><circle cx="617.56" cy="-16.71" r="2.6"/></g></g>
<g clip-path="url(#cc)"><path d="M556.62 92.61 L557.22 97.81 L557.82 96.54 L558.42 107.65 L559.02 105.01 L559.62 111.21 L560.22 99.46 L560.82 122.52 L561.42 112.05 L562.02 115.66 L562.62 102.01 L563.22 107.89 L563.82 105.65 L564.43 125.54 L565.03 118.22 L565.63 135.51 L566.23 109.97 L566.83 135.38 L567.43 148.65 L568.03 122.75 L568.63 134.21 L569.23 133.24 L569.83 138.31 L570.43 132.67 L571.03 144.7 L571.63 145.99 L572.23 124.07 L572.83 153.35 L573.43 140.83 L574.03 145.64 L574.63 131.62 L575.23 139.81 L575.83 143.68 L576.43 126.92 L577.03 141.11 L577.63 136.09 L578.23 139.67 L578.83 144.65 L579.44 142.12 L580.04 168.2 L580.64 126.26 L581.24 143.18 L581.84 147.62 L582.44 120.95 L583.04 146.48 L583.64 140.26 L584.24 149.92 L584.84 147.08 L585.44 138.21 L586.04 145.44 L586.64 161.62 L587.24 148.9 L587.84 147.02 L588.44 162.29 L589.04 164.62 L589.64 135.26 L590.24 164.17 L590.84 151.91 L591.44 142.63 L592.04 148.8 L592.64 139.07 L593.24 145.3 L593.84 139.73 L594.45 154.02 L595.05 160.36 L595.65 141.08 L596.25 163.44 L596.85 156.26 L597.45 148.23 L598.05 165.57 L598.65 154.49 L599.25 161.6 L599.85 156.13 L600.45 169.12 L601.05 163.16 L601.65 157.97 L602.25 153.96 L602.85 163.24 L603.45 158.07 L604.05 173.26 L604.65 158.32 L605.25 161.02 L605.85 166.82 L606.45 150.98 L607.05 139.5 L607.65 177.61 L608.25 160.29 L608.85 166.15 L609.46 165.25 L610.06 158.64 L610.66 163.17 L611.26 165.49 L611.56 110.09 L612.16 100.05 L612.76 98.93 L613.36 88.37 L613.96 87.03 L614.71 50.81 L615.91 30.44 L616.66 25.75 L620.26 15.27 L621.16 13.78 L621.76 -16.71" stroke="#0a00b2" stroke-width="1.0" fill="none" stroke-linejoin="round"/><g fill="#0a00b2"><circle cx="556.62" cy="92.61" r="2.6"/><circle cx="557.22" cy="97.81" r="2.6"/><circle cx="557.82" cy="96.54" r="2.6"/><circle cx="558.42" cy="107.65" r="2.6"/><circle cx="559.02" cy="105.01" r="2.6"/><circle cx="559.62" cy="111.21" r="2.6"/><circle cx="560.22" cy="99.46" r="2.6"/><circle cx="560.82" cy="122.52" r="2.6"/><circle cx="561.42" cy="112.05" r="2.6"/><circle cx="562.02" cy="115.66" r="2.6"/><circle cx="562.62" cy="102.01" r="2.6"/><circle cx="563.22" cy="107.89" r="2.6"/><circle cx="563.82" cy="105.65" r="2.6"/><circle cx="564.43" cy="125.54" r="2.6"/><circle cx="565.03" cy="118.22" r="2.6"/><circle cx="565.63" cy="135.51" r="2.6"/><circle cx="566.23" cy="109.97" r="2.6"/><circle cx="566.83" cy="135.38" r="2.6"/><circle cx="567.43" cy="148.65" r="2.6"/><circle cx="568.03" cy="122.75" r="2.6"/><circle cx="568.63" cy="134.21" r="2.6"/><circle cx="569.23" cy="133.24" r="2.6"/><circle cx="569.83" cy="138.31" r="2.6"/><circle cx="570.43" cy="132.67" r="2.6"/><circle cx="571.03" cy="144.7" r="2.6"/><circle cx="571.63" cy="145.99" r="2.6"/><circle cx="572.23" cy="124.07" r="2.6"/><circle cx="572.83" cy="153.35" r="2.6"/><circle cx="573.43" cy="140.83" r="2.6"/><circle cx="574.03" cy="145.64" r="2.6"/><circle cx="574.63" cy="131.62" r="2.6"/><circle cx="575.23" cy="139.81" r="2.6"/><circle cx="575.83" cy="143.68" r="2.6"/><circle cx="576.43" cy="126.92" r="2.6"/><circle cx="577.03" cy="141.11" r="2.6"/><circle cx="577.63" cy="136.09" r="2.6"/><circle cx="578.23" cy="139.67" r="2.6"/><circle cx="578.83" cy="144.65" r="2.6"/><circle cx="579.44" cy="142.12" r="2.6"/><circle cx="580.04" cy="168.2" r="2.6"/><circle cx="580.64" cy="126.26" r="2.6"/><circle cx="581.24" cy="143.18" r="2.6"/><circle cx="581.84" cy="147.62" r="2.6"/><circle cx="582.44" cy="120.95" r="2.6"/><circle cx="583.04" cy="146.48" r="2.6"/><circle cx="583.64" cy="140.26" r="2.6"/><circle cx="584.24" cy="149.92" r="2.6"/><circle cx="584.84" cy="147.08" r="2.6"/><circle cx="585.44" cy="138.21" r="2.6"/><circle cx="586.04" cy="145.44" r="2.6"/><circle cx="586.64" cy="161.62" r="2.6"/><circle cx="587.24" cy="148.9" r="2.6"/><circle cx="587.84" cy="147.02" r="2.6"/><circle cx="588.44" cy="162.29" r="2.6"/><circle cx="589.04" cy="164.62" r="2.6"/><circle cx="589.64" cy="135.26" r="2.6"/><circle cx="590.24" cy="164.17" r="2.6"/><circle cx="590.84" cy="151.91" r="2.6"/><circle cx="591.44" cy="142.63" r="2.6"/><circle cx="592.04" cy="148.8" r="2.6"/><circle cx="592.64" cy="139.07" r="2.6"/><circle cx="593.24" cy="145.3" r="2.6"/><circle cx="593.84" cy="139.73" r="2.6"/><circle cx="594.45" cy="154.02" r="2.6"/><circle cx="595.05" cy="160.36" r="2.6"/><circle cx="595.65" cy="141.08" r="2.6"/><circle cx="596.25" cy="163.44" r="2.6"/><circle cx="596.85" cy="156.26" r="2.6"/><circle cx="597.45" cy="148.23" r="2.6"/><circle cx="598.05" cy="165.57" r="2.6"/><circle cx="598.65" cy="154.49" r="2.6"/><circle cx="599.25" cy="161.6" r="2.6"/><circle cx="599.85" cy="156.13" r="2.6"/><circle cx="600.45" cy="169.12" r="2.6"/><circle cx="601.05" cy="163.16" r="2.6"/><circle cx="601.65" cy="157.97" r="2.6"/><circle cx="602.25" cy="153.96" r="2.6"/><circle cx="602.85" cy="163.24" r="2.6"/><circle cx="603.45" cy="158.07" r="2.6"/><circle cx="604.05" cy="173.26" r="2.6"/><circle cx="604.65" cy="158.32" r="2.6"/><circle cx="605.25" cy="161.02" r="2.6"/><circle cx="605.85" cy="166.82" r="2.6"/><circle cx="606.45" cy="150.98" r="2.6"/><circle cx="607.05" cy="139.5" r="2.6"/><circle cx="607.65" cy="177.61" r="2.6"/><circle cx="608.25" cy="160.29" r="2.6"/><circle cx="608.85" cy="166.15" r="2.6"/><circle cx="609.46" cy="165.25" r="2.6"/><circle cx="610.06" cy="158.64" r="2.6"/><circle cx="610.66" cy="163.17" r="2.6"/><circle cx="611.26" cy="165.49" r="2.6"/><circle cx="611.56" cy="110.09" r="2.6"/><circle cx="612.16" cy="100.05" r="2.6"/><circle cx="612.76" cy="98.93" r="2.6"/><circle cx="613.36" cy="88.37" r="2.6"/><circle cx="613.96" cy="87.03" r="2.6"/><circle cx="614.71" cy="50.81" r="2.6"/><circle cx="615.91" cy="30.44" r="2.6"/><circle cx="616.66" cy="25.75" r="2.6"/><circle cx="620.26" cy="15.27" r="2.6"/><circle cx="621.16" cy="13.78" r="2.6"/><circle cx="621.76" cy="-16.71" r="2.6"/></g></g>
<path d="M536 37H563.4V34.3L577 38.8L563.4 43.3V40.6H536Z" fill="#000"/><path d="M577 45.1H549.6V42.4L536 46.9L549.6 51.4V48.7H577Z" fill="#000"/>
<path d="M626 37H653.2V34.3L666.8 38.8L653.2 43.3V40.6H626Z" fill="#000"/><path d="M626 45.1H653.2V42.4L666.8 46.9L653.2 51.4V48.7H626Z" fill="#000"/>
<path d="M535.3 201.3L541.8 207.3L548.3 201.3L541.8 217.3Z" fill="#0a00b2"/>
<rect x="526.6" y="283.5" width="150.1" height="223.1" fill="none" stroke="#4a4a4a" stroke-width="1.1"/><path d="M534.11 506.6v-3M534.11 283.5v3M541.61 506.6v-3M541.61 283.5v3M549.12 506.6v-3M549.12 283.5v3M556.62 506.6v-3M556.62 283.5v3M571.63 506.6v-3M571.63 283.5v3M579.13 506.6v-3M579.13 283.5v3M586.64 506.6v-3M586.64 283.5v3M594.14 506.6v-3M594.14 283.5v3M609.16 506.6v-3M609.16 283.5v3M616.66 506.6v-3M616.66 283.5v3M624.17 506.6v-3M624.17 283.5v3M631.67 506.6v-3M631.67 283.5v3M646.68 506.6v-3M646.68 283.5v3M654.19 506.6v-3M654.19 283.5v3M661.69 506.6v-3M661.69 283.5v3M669.2 506.6v-3M669.2 283.5v3M526.6 506.6v-5M526.6 283.5v5M564.12 506.6v-5M564.12 283.5v5M601.65 506.6v-5M601.65 283.5v5M639.18 506.6v-5M639.18 283.5v5M676.7 506.6v-5M676.7 283.5v5M526.6 491.73h3M676.7 491.73h-3M526.6 476.85h3M676.7 476.85h-3M526.6 461.98h3M676.7 461.98h-3M526.6 447.11h3M676.7 447.11h-3M526.6 417.36h3M676.7 417.36h-3M526.6 402.49h3M676.7 402.49h-3M526.6 387.61h3M676.7 387.61h-3M526.6 372.74h3M676.7 372.74h-3M526.6 342.99h3M676.7 342.99h-3M526.6 328.12h3M676.7 328.12h-3M526.6 313.25h3M676.7 313.25h-3M526.6 298.37h3M676.7 298.37h-3M526.6 506.6h5M676.7 506.6h-5M526.6 432.23h5M676.7 432.23h-5M526.6 357.87h5M676.7 357.87h-5M526.6 283.5h5M676.7 283.5h-5" stroke="#4a4a4a" stroke-width="1" fill="none"/>
<g clip-path="url(#cf)"><path d="M556.62 309.69 L557.22 311.07 L557.82 311.44 L558.42 313.21 L559.02 316.27 L559.62 315.35 L560.22 314.74 L560.82 312.1 L561.42 308.76 L562.02 317.33 L562.62 318.25 L563.22 312.61 L563.82 310.91 L564.43 308.35 L565.03 313.25 L565.63 315.85 L566.23 310.18 L566.83 309.48 L567.43 310.42 L568.03 310.15 L568.63 319.34 L569.23 318.36 L569.83 324.63 L570.43 313.82 L571.03 324.21 L571.63 322.68 L572.23 320.46 L572.83 322.22 L573.43 315.84 L574.03 324.37 L574.63 328.93 L575.23 328.32 L575.83 324.19 L576.43 327.73 L577.03 324.98 L577.63 335.3 L578.23 329.63 L578.83 321.17 L579.44 331.43 L580.04 323.19 L580.64 329.69 L581.24 327.23 L581.84 327.64 L582.44 331.53 L583.04 331.53 L583.64 328.84 L584.24 335.76 L584.99 335.56 L585.14 357.12 L585.44 345.36 L586.04 352.43 L586.64 358.19 L587.24 356.14 L587.84 356.01 L588.44 357.4 L589.04 357.78 L589.64 353.31 L590.24 351.69 L590.84 356.2 L591.44 354.55 L592.04 355.34 L592.64 355.96 L593.24 358.29 L593.84 353.94 L594.45 357.83 L595.05 356.11 L595.65 354.11 L596.25 353.61 L596.85 355.8 L597.45 360.32 L598.05 358.72 L598.65 361.34 L599.25 355.25 L599.85 358.47 L600.45 354.53 L601.05 358.32 L601.65 357.77 L602.25 356.76 L602.85 356.53 L603.45 353.82 L604.05 356.49 L604.65 353.39 L605.25 359.66 L605.85 354.94 L606.45 356.35 L607.05 357.62 L607.65 355.27 L608.25 348.7 L608.85 357.25 L609.46 360.43 L610.06 360.96 L610.66 355.73 L611.26 361.7 L611.86 358.75 L612.46 356.56 L613.06 358.14 L613.66 357.03 L614.26 359.97 L614.86 361.35 L615.46 361.49 L616.06 355.08 L616.66 356.07 L617.26 358.6 L617.86 362.45 L618.46 355.5 L619.06 356.99 L619.66 355.32 L620.26 359.78 L620.86 355.5 L621.46 354.93 L622.06 355.36 L622.66 354.69 L623.26 356.7 L623.86 355.19 L624.47 357.57 L625.07 342.29 L625.67 357.54 L626.27 360.81 L626.87 357.64 L627.47 362.56 L628.07 359.04 L628.67 354.37 L629.27 359.3 L629.87 359.48 L630.47 357.67 L631.07 354.4 L631.67 354.42 L632.27 357.33 L632.87 358.12 L633.47 356.42 L634.07 360.73 L634.67 357.34 L635.27 357.66 L635.87 362.01 L636.47 356.92 L637.07 354.01 L637.67 355.71 L638.27 364.09 L638.87 357.78 L639.48 358.02 L640.08 351.07 L640.68 355.24 L641.28 351.5 L641.88 354.01 L642.48 363.13 L643.08 354.61 L643.68 365.96 L644.28 358.44 L644.88 359.16 L645.48 356.58 L646.08 359.25 L646.68 352.59 L647.28 355.83 L647.88 357.84 L648.48 357.73 L649.08 359.71 L649.68 359.14 L650.28 360.37 L650.88 356.81 L651.48 358.54 L652.08 358.61 L652.68 353.79 L653.28 356.86 L653.88 352.21 L654.49 358.73 L655.09 359.51 L655.69 359.77 L656.29 359.94 L656.89 353.88 L657.49 360.95 L658.09 355.84 L658.69 351.97 L659.29 359.26 L659.89 362.16 L660.49 355.18 L661.09 360.91 L661.69 350.11 L662.29 355.31 L662.89 353.16 L663.49 356.43 L664.09 360.94 L664.69 356.38 L665.29 357.6 L665.89 355.1 L666.49 357.71 L667.09 355.23 L667.69 354.66 L668.29 357.07 L668.89 359.69 L669.5 359.85 L670.1 352.89 L670.7 359.34 L671.3 362.02 L671.9 356.32 L672.5 357.21 L673.1 355.32 L673.7 360.87 L674.3 355.95 L674.9 352.2 L675.5 357.34 L676.1 356.6 L676.7 355.51" stroke="#b0b0e8" stroke-width="1.0" fill="none" stroke-linejoin="round"/><g fill="#b0b0e8"><circle cx="556.62" cy="309.69" r="2.6"/><circle cx="557.22" cy="311.07" r="2.6"/><circle cx="557.82" cy="311.44" r="2.6"/><circle cx="558.42" cy="313.21" r="2.6"/><circle cx="559.02" cy="316.27" r="2.6"/><circle cx="559.62" cy="315.35" r="2.6"/><circle cx="560.22" cy="314.74" r="2.6"/><circle cx="560.82" cy="312.1" r="2.6"/><circle cx="561.42" cy="308.76" r="2.6"/><circle cx="562.02" cy="317.33" r="2.6"/><circle cx="562.62" cy="318.25" r="2.6"/><circle cx="563.22" cy="312.61" r="2.6"/><circle cx="563.82" cy="310.91" r="2.6"/><circle cx="564.43" cy="308.35" r="2.6"/><circle cx="565.03" cy="313.25" r="2.6"/><circle cx="565.63" cy="315.85" r="2.6"/><circle cx="566.23" cy="310.18" r="2.6"/><circle cx="566.83" cy="309.48" r="2.6"/><circle cx="567.43" cy="310.42" r="2.6"/><circle cx="568.03" cy="310.15" r="2.6"/><circle cx="568.63" cy="319.34" r="2.6"/><circle cx="569.23" cy="318.36" r="2.6"/><circle cx="569.83" cy="324.63" r="2.6"/><circle cx="570.43" cy="313.82" r="2.6"/><circle cx="571.03" cy="324.21" r="2.6"/><circle cx="571.63" cy="322.68" r="2.6"/><circle cx="572.23" cy="320.46" r="2.6"/><circle cx="572.83" cy="322.22" r="2.6"/><circle cx="573.43" cy="315.84" r="2.6"/><circle cx="574.03" cy="324.37" r="2.6"/><circle cx="574.63" cy="328.93" r="2.6"/><circle cx="575.23" cy="328.32" r="2.6"/><circle cx="575.83" cy="324.19" r="2.6"/><circle cx="576.43" cy="327.73" r="2.6"/><circle cx="577.03" cy="324.98" r="2.6"/><circle cx="577.63" cy="335.3" r="2.6"/><circle cx="578.23" cy="329.63" r="2.6"/><circle cx="578.83" cy="321.17" r="2.6"/><circle cx="579.44" cy="331.43" r="2.6"/><circle cx="580.04" cy="323.19" r="2.6"/><circle cx="580.64" cy="329.69" r="2.6"/><circle cx="581.24" cy="327.23" r="2.6"/><circle cx="581.84" cy="327.64" r="2.6"/><circle cx="582.44" cy="331.53" r="2.6"/><circle cx="583.04" cy="331.53" r="2.6"/><circle cx="583.64" cy="328.84" r="2.6"/><circle cx="584.24" cy="335.76" r="2.6"/><circle cx="584.99" cy="335.56" r="2.6"/><circle cx="585.14" cy="357.12" r="2.6"/><circle cx="585.44" cy="345.36" r="2.6"/><circle cx="586.04" cy="352.43" r="2.6"/><circle cx="586.64" cy="358.19" r="2.6"/><circle cx="587.24" cy="356.14" r="2.6"/><circle cx="587.84" cy="356.01" r="2.6"/><circle cx="588.44" cy="357.4" r="2.6"/><circle cx="589.04" cy="357.78" r="2.6"/><circle cx="589.64" cy="353.31" r="2.6"/><circle cx="590.24" cy="351.69" r="2.6"/><circle cx="590.84" cy="356.2" r="2.6"/><circle cx="591.44" cy="354.55" r="2.6"/><circle cx="592.04" cy="355.34" r="2.6"/><circle cx="592.64" cy="355.96" r="2.6"/><circle cx="593.24" cy="358.29" r="2.6"/><circle cx="593.84" cy="353.94" r="2.6"/><circle cx="594.45" cy="357.83" r="2.6"/><circle cx="595.05" cy="356.11" r="2.6"/><circle cx="595.65" cy="354.11" r="2.6"/><circle cx="596.25" cy="353.61" r="2.6"/><circle cx="596.85" cy="355.8" r="2.6"/><circle cx="597.45" cy="360.32" r="2.6"/><circle cx="598.05" cy="358.72" r="2.6"/><circle cx="598.65" cy="361.34" r="2.6"/><circle cx="599.25" cy="355.25" r="2.6"/><circle cx="599.85" cy="358.47" r="2.6"/><circle cx="600.45" cy="354.53" r="2.6"/><circle cx="601.05" cy="358.32" r="2.6"/><circle cx="601.65" cy="357.77" r="2.6"/><circle cx="602.25" cy="356.76" r="2.6"/><circle cx="602.85" cy="356.53" r="2.6"/><circle cx="603.45" cy="353.82" r="2.6"/><circle cx="604.05" cy="356.49" r="2.6"/><circle cx="604.65" cy="353.39" r="2.6"/><circle cx="605.25" cy="359.66" r="2.6"/><circle cx="605.85" cy="354.94" r="2.6"/><circle cx="606.45" cy="356.35" r="2.6"/><circle cx="607.05" cy="357.62" r="2.6"/><circle cx="607.65" cy="355.27" r="2.6"/><circle cx="608.25" cy="348.7" r="2.6"/><circle cx="608.85" cy="357.25" r="2.6"/><circle cx="609.46" cy="360.43" r="2.6"/><circle cx="610.06" cy="360.96" r="2.6"/><circle cx="610.66" cy="355.73" r="2.6"/><circle cx="611.26" cy="361.7" r="2.6"/><circle cx="611.86" cy="358.75" r="2.6"/><circle cx="612.46" cy="356.56" r="2.6"/><circle cx="613.06" cy="358.14" r="2.6"/><circle cx="613.66" cy="357.03" r="2.6"/><circle cx="614.26" cy="359.97" r="2.6"/><circle cx="614.86" cy="361.35" r="2.6"/><circle cx="615.46" cy="361.49" r="2.6"/><circle cx="616.06" cy="355.08" r="2.6"/><circle cx="616.66" cy="356.07" r="2.6"/><circle cx="617.26" cy="358.6" r="2.6"/><circle cx="617.86" cy="362.45" r="2.6"/><circle cx="618.46" cy="355.5" r="2.6"/><circle cx="619.06" cy="356.99" r="2.6"/><circle cx="619.66" cy="355.32" r="2.6"/><circle cx="620.26" cy="359.78" r="2.6"/><circle cx="620.86" cy="355.5" r="2.6"/><circle cx="621.46" cy="354.93" r="2.6"/><circle cx="622.06" cy="355.36" r="2.6"/><circle cx="622.66" cy="354.69" r="2.6"/><circle cx="623.26" cy="356.7" r="2.6"/><circle cx="623.86" cy="355.19" r="2.6"/><circle cx="624.47" cy="357.57" r="2.6"/><circle cx="625.07" cy="342.29" r="2.6"/><circle cx="625.67" cy="357.54" r="2.6"/><circle cx="626.27" cy="360.81" r="2.6"/><circle cx="626.87" cy="357.64" r="2.6"/><circle cx="627.47" cy="362.56" r="2.6"/><circle cx="628.07" cy="359.04" r="2.6"/><circle cx="628.67" cy="354.37" r="2.6"/><circle cx="629.27" cy="359.3" r="2.6"/><circle cx="629.87" cy="359.48" r="2.6"/><circle cx="630.47" cy="357.67" r="2.6"/><circle cx="631.07" cy="354.4" r="2.6"/><circle cx="631.67" cy="354.42" r="2.6"/><circle cx="632.27" cy="357.33" r="2.6"/><circle cx="632.87" cy="358.12" r="2.6"/><circle cx="633.47" cy="356.42" r="2.6"/><circle cx="634.07" cy="360.73" r="2.6"/><circle cx="634.67" cy="357.34" r="2.6"/><circle cx="635.27" cy="357.66" r="2.6"/><circle cx="635.87" cy="362.01" r="2.6"/><circle cx="636.47" cy="356.92" r="2.6"/><circle cx="637.07" cy="354.01" r="2.6"/><circle cx="637.67" cy="355.71" r="2.6"/><circle cx="638.27" cy="364.09" r="2.6"/><circle cx="638.87" cy="357.78" r="2.6"/><circle cx="639.48" cy="358.02" r="2.6"/><circle cx="640.08" cy="351.07" r="2.6"/><circle cx="640.68" cy="355.24" r="2.6"/><circle cx="641.28" cy="351.5" r="2.6"/><circle cx="641.88" cy="354.01" r="2.6"/><circle cx="642.48" cy="363.13" r="2.6"/><circle cx="643.08" cy="354.61" r="2.6"/><circle cx="643.68" cy="365.96" r="2.6"/><circle cx="644.28" cy="358.44" r="2.6"/><circle cx="644.88" cy="359.16" r="2.6"/><circle cx="645.48" cy="356.58" r="2.6"/><circle cx="646.08" cy="359.25" r="2.6"/><circle cx="646.68" cy="352.59" r="2.6"/><circle cx="647.28" cy="355.83" r="2.6"/><circle cx="647.88" cy="357.84" r="2.6"/><circle cx="648.48" cy="357.73" r="2.6"/><circle cx="649.08" cy="359.71" r="2.6"/><circle cx="649.68" cy="359.14" r="2.6"/><circle cx="650.28" cy="360.37" r="2.6"/><circle cx="650.88" cy="356.81" r="2.6"/><circle cx="651.48" cy="358.54" r="2.6"/><circle cx="652.08" cy="358.61" r="2.6"/><circle cx="652.68" cy="353.79" r="2.6"/><circle cx="653.28" cy="356.86" r="2.6"/><circle cx="653.88" cy="352.21" r="2.6"/><circle cx="654.49" cy="358.73" r="2.6"/><circle cx="655.09" cy="359.51" r="2.6"/><circle cx="655.69" cy="359.77" r="2.6"/><circle cx="656.29" cy="359.94" r="2.6"/><circle cx="656.89" cy="353.88" r="2.6"/><circle cx="657.49" cy="360.95" r="2.6"/><circle cx="658.09" cy="355.84" r="2.6"/><circle cx="658.69" cy="351.97" r="2.6"/><circle cx="659.29" cy="359.26" r="2.6"/><circle cx="659.89" cy="362.16" r="2.6"/><circle cx="660.49" cy="355.18" r="2.6"/><circle cx="661.09" cy="360.91" r="2.6"/><circle cx="661.69" cy="350.11" r="2.6"/><circle cx="662.29" cy="355.31" r="2.6"/><circle cx="662.89" cy="353.16" r="2.6"/><circle cx="663.49" cy="356.43" r="2.6"/><circle cx="664.09" cy="360.94" r="2.6"/><circle cx="664.69" cy="356.38" r="2.6"/><circle cx="665.29" cy="357.6" r="2.6"/><circle cx="665.89" cy="355.1" r="2.6"/><circle cx="666.49" cy="357.71" r="2.6"/><circle cx="667.09" cy="355.23" r="2.6"/><circle cx="667.69" cy="354.66" r="2.6"/><circle cx="668.29" cy="357.07" r="2.6"/><circle cx="668.89" cy="359.69" r="2.6"/><circle cx="669.5" cy="359.85" r="2.6"/><circle cx="670.1" cy="352.89" r="2.6"/><circle cx="670.7" cy="359.34" r="2.6"/><circle cx="671.3" cy="362.02" r="2.6"/><circle cx="671.9" cy="356.32" r="2.6"/><circle cx="672.5" cy="357.21" r="2.6"/><circle cx="673.1" cy="355.32" r="2.6"/><circle cx="673.7" cy="360.87" r="2.6"/><circle cx="674.3" cy="355.95" r="2.6"/><circle cx="674.9" cy="352.2" r="2.6"/><circle cx="675.5" cy="357.34" r="2.6"/><circle cx="676.1" cy="356.6" r="2.6"/><circle cx="676.7" cy="355.51" r="2.6"/></g></g>
<g clip-path="url(#cf)"><path d="M556.62 309.41 L557.22 316.82 L557.82 314.72 L558.42 307.42 L559.02 307.98 L559.62 309.28 L560.22 308.58 L560.82 310.2 L561.42 313.69 L562.02 300.84 L562.62 308.52 L563.22 308.67 L563.82 305.98 L564.43 305.54 L565.03 311.46 L565.63 308.33 L566.23 310.66 L566.83 308.36 L567.43 311.61 L568.03 317.55 L568.63 309.67 L569.23 310.72 L569.83 314.87 L570.43 302.75 L571.03 305.07 L571.63 305.74 L572.23 313.4 L572.83 307.68 L573.43 304.74 L574.03 328.69 L574.63 309.29 L575.23 310.43 L575.83 306.13 L576.43 306.96 L577.03 310.3 L577.63 309.47 L578.23 306.18 L578.83 301.79 L579.44 312.31 L580.04 299.04 L580.64 302.69 L581.24 311.55 L581.84 302.4 L582.44 317.87 L583.04 313.04 L583.64 304.83 L584.24 310.3 L584.84 305.21 L585.44 313.45 L586.04 307.34 L586.64 314.93 L587.24 310.47 L587.84 306.96 L588.44 300.99 L589.04 329.55 L589.64 315.37 L590.24 302.99 L590.84 313.4 L591.44 314.29 L592.04 311.14 L592.64 303.27 L593.24 311.07 L593.84 302.39 L594.45 312.34 L595.05 302.53 L595.65 314.04 L596.25 304.59 L596.85 306.48 L597.45 308.53 L598.05 310.55 L598.65 315.65 L599.25 306.25 L599.85 312.37 L600.45 308.36 L601.05 310.18 L601.65 310.74 L602.25 306.33 L602.85 310.51 L603.45 304 L604.05 313.74 L604.65 303.43 L605.25 305.93 L605.85 312.44 L606.45 299.43 L607.05 308.68 L607.65 313.15 L608.25 316.66 L608.85 310.6 L609.16 309.15 L609.76 308.19 L610.36 311.48 L610.96 317.19 L611.56 313.81 L612.16 318.66 L612.76 318.7 L613.36 324.06 L613.96 318.81 L614.56 325.23 L615.16 321.24 L615.76 329.2 L616.36 321.19 L616.96 324.46 L617.56 332.75 L618.16 331.34 L618.76 332.97 L619.36 334.64 L619.96 339.17 L620.56 335.98 L621.16 337.26 L621.76 345.99 L622.36 341.71 L622.96 344.7 L623.56 344.51 L624.17 344.38 L624.77 348.71 L625.37 353.88 L625.97 350.46 L626.57 351.9 L627.17 352.95 L627.77 349.38 L628.37 352.7 L628.97 361.27 L629.57 357.07 L630.17 354.32 L630.77 360.55 L631.37 355.41 L631.97 353.82 L632.57 349.86 L633.17 358.97 L633.77 351.92 L634.37 363.66 L634.97 349.29 L635.57 354.74 L636.17 357.89 L636.77 360.96 L637.37 356.53 L637.97 362.23 L638.57 354.43 L639.18 366.42 L639.78 360.25 L640.38 356.59 L640.98 359.15 L641.58 351.7 L642.18 358.93 L642.78 363.54 L643.38 351.48 L643.98 363.45 L644.58 354.49 L645.18 357.59 L645.78 351.9 L646.38 361.96 L646.98 356.4 L647.58 361.36 L648.18 361.89 L648.78 365.09 L649.38 357.58 L649.98 351.01 L650.58 358.16 L651.18 358.99 L651.78 361.25 L652.38 355.13 L652.98 352.52 L653.58 354.53 L654.19 361.88 L654.79 351.25 L655.39 350.23 L655.99 358.66 L656.59 357.1 L657.19 357.39 L657.79 357.03 L658.39 353.42 L658.99 359.9 L659.59 361.07 L660.19 355.44 L660.79 361.39 L661.39 351.2 L661.99 349.58 L662.59 366.67 L663.19 356.74 L663.79 355.69 L664.39 351.95 L664.99 362.48 L665.59 356.78 L666.19 353.46 L666.79 363.29 L667.39 355.36 L667.99 354.01 L668.59 352.83 L669.2 360.41 L669.8 361.03 L670.4 351.2 L671 354.98 L671.6 358.38 L672.2 352.54 L672.8 356.63 L673.4 362.65 L674 349.96 L674.6 351.62 L675.2 360.61 L675.8 354.9 L676.4 358.25" stroke="#0a00b2" stroke-width="1.0" fill="none" stroke-linejoin="round"/><g fill="#0a00b2"><circle cx="556.62" cy="309.41" r="2.6"/><circle cx="557.22" cy="316.82" r="2.6"/><circle cx="557.82" cy="314.72" r="2.6"/><circle cx="558.42" cy="307.42" r="2.6"/><circle cx="559.02" cy="307.98" r="2.6"/><circle cx="559.62" cy="309.28" r="2.6"/><circle cx="560.22" cy="308.58" r="2.6"/><circle cx="560.82" cy="310.2" r="2.6"/><circle cx="561.42" cy="313.69" r="2.6"/><circle cx="562.02" cy="300.84" r="2.6"/><circle cx="562.62" cy="308.52" r="2.6"/><circle cx="563.22" cy="308.67" r="2.6"/><circle cx="563.82" cy="305.98" r="2.6"/><circle cx="564.43" cy="305.54" r="2.6"/><circle cx="565.03" cy="311.46" r="2.6"/><circle cx="565.63" cy="308.33" r="2.6"/><circle cx="566.23" cy="310.66" r="2.6"/><circle cx="566.83" cy="308.36" r="2.6"/><circle cx="567.43" cy="311.61" r="2.6"/><circle cx="568.03" cy="317.55" r="2.6"/><circle cx="568.63" cy="309.67" r="2.6"/><circle cx="569.23" cy="310.72" r="2.6"/><circle cx="569.83" cy="314.87" r="2.6"/><circle cx="570.43" cy="302.75" r="2.6"/><circle cx="571.03" cy="305.07" r="2.6"/><circle cx="571.63" cy="305.74" r="2.6"/><circle cx="572.23" cy="313.4" r="2.6"/><circle cx="572.83" cy="307.68" r="2.6"/><circle cx="573.43" cy="304.74" r="2.6"/><circle cx="574.03" cy="328.69" r="2.6"/><circle cx="574.63" cy="309.29" r="2.6"/><circle cx="575.23" cy="310.43" r="2.6"/><circle cx="575.83" cy="306.13" r="2.6"/><circle cx="576.43" cy="306.96" r="2.6"/><circle cx="577.03" cy="310.3" r="2.6"/><circle cx="577.63" cy="309.47" r="2.6"/><circle cx="578.23" cy="306.18" r="2.6"/><circle cx="578.83" cy="301.79" r="2.6"/><circle cx="579.44" cy="312.31" r="2.6"/><circle cx="580.04" cy="299.04" r="2.6"/><circle cx="580.64" cy="302.69" r="2.6"/><circle cx="581.24" cy="311.55" r="2.6"/><circle cx="581.84" cy="302.4" r="2.6"/><circle cx="582.44" cy="317.87" r="2.6"/><circle cx="583.04" cy="313.04" r="2.6"/><circle cx="583.64" cy="304.83" r="2.6"/><circle cx="584.24" cy="310.3" r="2.6"/><circle cx="584.84" cy="305.21" r="2.6"/><circle cx="585.44" cy="313.45" r="2.6"/><circle cx="586.04" cy="307.34" r="2.6"/><circle cx="586.64" cy="314.93" r="2.6"/><circle cx="587.24" cy="310.47" r="2.6"/><circle cx="587.84" cy="306.96" r="2.6"/><circle cx="588.44" cy="300.99" r="2.6"/><circle cx="589.04" cy="329.55" r="2.6"/><circle cx="589.64" cy="315.37" r="2.6"/><circle cx="590.24" cy="302.99" r="2.6"/><circle cx="590.84" cy="313.4" r="2.6"/><circle cx="591.44" cy="314.29" r="2.6"/><circle cx="592.04" cy="311.14" r="2.6"/><circle cx="592.64" cy="303.27" r="2.6"/><circle cx="593.24" cy="311.07" r="2.6"/><circle cx="593.84" cy="302.39" r="2.6"/><circle cx="594.45" cy="312.34" r="2.6"/><circle cx="595.05" cy="302.53" r="2.6"/><circle cx="595.65" cy="314.04" r="2.6"/><circle cx="596.25" cy="304.59" r="2.6"/><circle cx="596.85" cy="306.48" r="2.6"/><circle cx="597.45" cy="308.53" r="2.6"/><circle cx="598.05" cy="310.55" r="2.6"/><circle cx="598.65" cy="315.65" r="2.6"/><circle cx="599.25" cy="306.25" r="2.6"/><circle cx="599.85" cy="312.37" r="2.6"/><circle cx="600.45" cy="308.36" r="2.6"/><circle cx="601.05" cy="310.18" r="2.6"/><circle cx="601.65" cy="310.74" r="2.6"/><circle cx="602.25" cy="306.33" r="2.6"/><circle cx="602.85" cy="310.51" r="2.6"/><circle cx="603.45" cy="304" r="2.6"/><circle cx="604.05" cy="313.74" r="2.6"/><circle cx="604.65" cy="303.43" r="2.6"/><circle cx="605.25" cy="305.93" r="2.6"/><circle cx="605.85" cy="312.44" r="2.6"/><circle cx="606.45" cy="299.43" r="2.6"/><circle cx="607.05" cy="308.68" r="2.6"/><circle cx="607.65" cy="313.15" r="2.6"/><circle cx="608.25" cy="316.66" r="2.6"/><circle cx="608.85" cy="310.6" r="2.6"/><circle cx="609.16" cy="309.15" r="2.6"/><circle cx="609.76" cy="308.19" r="2.6"/><circle cx="610.36" cy="311.48" r="2.6"/><circle cx="610.96" cy="317.19" r="2.6"/><circle cx="611.56" cy="313.81" r="2.6"/><circle cx="612.16" cy="318.66" r="2.6"/><circle cx="612.76" cy="318.7" r="2.6"/><circle cx="613.36" cy="324.06" r="2.6"/><circle cx="613.96" cy="318.81" r="2.6"/><circle cx="614.56" cy="325.23" r="2.6"/><circle cx="615.16" cy="321.24" r="2.6"/><circle cx="615.76" cy="329.2" r="2.6"/><circle cx="616.36" cy="321.19" r="2.6"/><circle cx="616.96" cy="324.46" r="2.6"/><circle cx="617.56" cy="332.75" r="2.6"/><circle cx="618.16" cy="331.34" r="2.6"/><circle cx="618.76" cy="332.97" r="2.6"/><circle cx="619.36" cy="334.64" r="2.6"/><circle cx="619.96" cy="339.17" r="2.6"/><circle cx="620.56" cy="335.98" r="2.6"/><circle cx="621.16" cy="337.26" r="2.6"/><circle cx="621.76" cy="345.99" r="2.6"/><circle cx="622.36" cy="341.71" r="2.6"/><circle cx="622.96" cy="344.7" r="2.6"/><circle cx="623.56" cy="344.51" r="2.6"/><circle cx="624.17" cy="344.38" r="2.6"/><circle cx="624.77" cy="348.71" r="2.6"/><circle cx="625.37" cy="353.88" r="2.6"/><circle cx="625.97" cy="350.46" r="2.6"/><circle cx="626.57" cy="351.9" r="2.6"/><circle cx="627.17" cy="352.95" r="2.6"/><circle cx="627.77" cy="349.38" r="2.6"/><circle cx="628.37" cy="352.7" r="2.6"/><circle cx="628.97" cy="361.27" r="2.6"/><circle cx="629.57" cy="357.07" r="2.6"/><circle cx="630.17" cy="354.32" r="2.6"/><circle cx="630.77" cy="360.55" r="2.6"/><circle cx="631.37" cy="355.41" r="2.6"/><circle cx="631.97" cy="353.82" r="2.6"/><circle cx="632.57" cy="349.86" r="2.6"/><circle cx="633.17" cy="358.97" r="2.6"/><circle cx="633.77" cy="351.92" r="2.6"/><circle cx="634.37" cy="363.66" r="2.6"/><circle cx="634.97" cy="349.29" r="2.6"/><circle cx="635.57" cy="354.74" r="2.6"/><circle cx="636.17" cy="357.89" r="2.6"/><circle cx="636.77" cy="360.96" r="2.6"/><circle cx="637.37" cy="356.53" r="2.6"/><circle cx="637.97" cy="362.23" r="2.6"/><circle cx="638.57" cy="354.43" r="2.6"/><circle cx="639.18" cy="366.42" r="2.6"/><circle cx="639.78" cy="360.25" r="2.6"/><circle cx="640.38" cy="356.59" r="2.6"/><circle cx="640.98" cy="359.15" r="2.6"/><circle cx="641.58" cy="351.7" r="2.6"/><circle cx="642.18" cy="358.93" r="2.6"/><circle cx="642.78" cy="363.54" r="2.6"/><circle cx="643.38" cy="351.48" r="2.6"/><circle cx="643.98" cy="363.45" r="2.6"/><circle cx="644.58" cy="354.49" r="2.6"/><circle cx="645.18" cy="357.59" r="2.6"/><circle cx="645.78" cy="351.9" r="2.6"/><circle cx="646.38" cy="361.96" r="2.6"/><circle cx="646.98" cy="356.4" r="2.6"/><circle cx="647.58" cy="361.36" r="2.6"/><circle cx="648.18" cy="361.89" r="2.6"/><circle cx="648.78" cy="365.09" r="2.6"/><circle cx="649.38" cy="357.58" r="2.6"/><circle cx="649.98" cy="351.01" r="2.6"/><circle cx="650.58" cy="358.16" r="2.6"/><circle cx="651.18" cy="358.99" r="2.6"/><circle cx="651.78" cy="361.25" r="2.6"/><circle cx="652.38" cy="355.13" r="2.6"/><circle cx="652.98" cy="352.52" r="2.6"/><circle cx="653.58" cy="354.53" r="2.6"/><circle cx="654.19" cy="361.88" r="2.6"/><circle cx="654.79" cy="351.25" r="2.6"/><circle cx="655.39" cy="350.23" r="2.6"/><circle cx="655.99" cy="358.66" r="2.6"/><circle cx="656.59" cy="357.1" r="2.6"/><circle cx="657.19" cy="357.39" r="2.6"/><circle cx="657.79" cy="357.03" r="2.6"/><circle cx="658.39" cy="353.42" r="2.6"/><circle cx="658.99" cy="359.9" r="2.6"/><circle cx="659.59" cy="361.07" r="2.6"/><circle cx="660.19" cy="355.44" r="2.6"/><circle cx="660.79" cy="361.39" r="2.6"/><circle cx="661.39" cy="351.2" r="2.6"/><circle cx="661.99" cy="349.58" r="2.6"/><circle cx="662.59" cy="366.67" r="2.6"/><circle cx="663.19" cy="356.74" r="2.6"/><circle cx="663.79" cy="355.69" r="2.6"/><circle cx="664.39" cy="351.95" r="2.6"/><circle cx="664.99" cy="362.48" r="2.6"/><circle cx="665.59" cy="356.78" r="2.6"/><circle cx="666.19" cy="353.46" r="2.6"/><circle cx="666.79" cy="363.29" r="2.6"/><circle cx="667.39" cy="355.36" r="2.6"/><circle cx="667.99" cy="354.01" r="2.6"/><circle cx="668.59" cy="352.83" r="2.6"/><circle cx="669.2" cy="360.41" r="2.6"/><circle cx="669.8" cy="361.03" r="2.6"/><circle cx="670.4" cy="351.2" r="2.6"/><circle cx="671" cy="354.98" r="2.6"/><circle cx="671.6" cy="358.38" r="2.6"/><circle cx="672.2" cy="352.54" r="2.6"/><circle cx="672.8" cy="356.63" r="2.6"/><circle cx="673.4" cy="362.65" r="2.6"/><circle cx="674" cy="349.96" r="2.6"/><circle cx="674.6" cy="351.62" r="2.6"/><circle cx="675.2" cy="360.61" r="2.6"/><circle cx="675.8" cy="354.9" r="2.6"/><circle cx="676.4" cy="358.25" r="2.6"/></g></g>
<path d="M536 389.6H563.4V386.9L577 391.4L563.4 395.9V393.2H536Z" fill="#000"/><path d="M577 397.5H549.6V394.8L536 399.3L549.6 403.8V401.1H577Z" fill="#000"/>
<path d="M626 389.6H653.4V386.9L667 391.4L653.4 395.9V393.2H626Z" fill="#000"/><path d="M626 397.5H653.4V394.8L667 399.3L653.4 403.8V401.1H626Z" fill="#000"/>
<path d="M534.9 479L541.4 485L547.9 479L541.4 495.7Z" fill="#0a00b2"/>
<text x="68.6" y="249.9" font-size="16.5" text-anchor="middle" fill="#333">0</text>
<text x="98.56" y="249.9" font-size="16.5" text-anchor="middle" fill="#333">1</text>
<path d="M94.47 250.5h3.65v-2.66h-3.65ZM99.62 250.5h3.3v-2.66h-3.3Z" fill="#fff"/>
<text x="128.52" y="249.9" font-size="16.5" text-anchor="middle" fill="#333">2</text>
<text x="158.48" y="249.9" font-size="16.5" text-anchor="middle" fill="#333">3</text>
<text x="188.44" y="249.9" font-size="16.5" text-anchor="middle" fill="#333">4</text>
<text x="218.4" y="249.9" font-size="16.5" text-anchor="middle" fill="#333">5</text>
<text x="64" y="203.5" font-size="16.5" text-anchor="end" fill="#333">0.35</text>
<text x="64" y="139.6" font-size="16.5" text-anchor="end" fill="#333">0.45</text>
<text x="64" y="75.7" font-size="16.5" text-anchor="end" fill="#333">0.55</text>
<text x="64" y="11.8" font-size="16.5" text-anchor="end" fill="#333">0.65</text>
<text x="70.4" y="22.1" font-size="16" text-anchor="start" fill="#111">(a)</text>
<text x="68.6" y="527.7" font-size="16.5" text-anchor="middle" fill="#333">0</text>
<text x="98.54" y="527.7" font-size="16.5" text-anchor="middle" fill="#333">1</text>
<path d="M94.45 528.3h3.65v-2.66h-3.65ZM99.6 528.3h3.3v-2.66h-3.3Z" fill="#fff"/>
<text x="128.48" y="527.7" font-size="16.5" text-anchor="middle" fill="#333">2</text>
<text x="158.42" y="527.7" font-size="16.5" text-anchor="middle" fill="#333">3</text>
<text x="188.36" y="527.7" font-size="16.5" text-anchor="middle" fill="#333">4</text>
<text x="218.3" y="527.7" font-size="16.5" text-anchor="middle" fill="#333">5</text>
<text x="64" y="468.7" font-size="16.5" text-anchor="end" fill="#333">0.35</text>
<text x="64" y="379.25" font-size="16.5" text-anchor="end" fill="#333">0.45</text>
<text x="64" y="289.8" font-size="16.5" text-anchor="end" fill="#333">0.55</text>
<text x="70.4" y="300.1" font-size="16" text-anchor="start" fill="#111">(d)</text>
<text x="297.2" y="250" font-size="16.5" text-anchor="middle" fill="#333">-50</text>
<text x="334.7" y="250" font-size="16.5" text-anchor="middle" fill="#333">-25</text>
<text x="372.2" y="250" font-size="16.5" text-anchor="middle" fill="#333">0</text>
<text x="409.7" y="250" font-size="16.5" text-anchor="middle" fill="#333">25</text>
<text x="447.2" y="250" font-size="16.5" text-anchor="middle" fill="#333">50</text>
<text x="291.6" y="205.99" font-size="16.5" text-anchor="end" fill="#333">0</text>
<text x="291.6" y="108.94" font-size="16.5" text-anchor="end" fill="#333">500</text>
<text x="291.6" y="11.9" font-size="16.5" text-anchor="end" fill="#333">1000</text>
<path d="M255.4 12.5h3.65v-2.66h-3.65ZM260.55 12.5h3.3v-2.66h-3.3Z" fill="#fff"/>
<text x="299" y="22.2" font-size="16" text-anchor="start" fill="#111">(b)</text>
<text x="297.2" y="527.9" font-size="16.5" text-anchor="middle" fill="#333">-50</text>
<text x="334.73" y="527.9" font-size="16.5" text-anchor="middle" fill="#333">-25</text>
<text x="372.25" y="527.9" font-size="16.5" text-anchor="middle" fill="#333">0</text>
<text x="409.77" y="527.9" font-size="16.5" text-anchor="middle" fill="#333">25</text>
<text x="447.3" y="527.9" font-size="16.5" text-anchor="middle" fill="#333">50</text>
<text x="291.6" y="483.89" font-size="16.5" text-anchor="end" fill="#333">0</text>
<text x="291.6" y="386.84" font-size="16.5" text-anchor="end" fill="#333">500</text>
<text x="291.6" y="289.8" font-size="16.5" text-anchor="end" fill="#333">1000</text>
<path d="M255.4 290.4h3.65v-2.66h-3.65ZM260.55 290.4h3.3v-2.66h-3.3Z" fill="#fff"/>
<text x="299" y="300.1" font-size="16" text-anchor="start" fill="#111">(e)</text>
<text x="526.6" y="249.9" font-size="16.5" text-anchor="middle" fill="#333">-50</text>
<text x="564.12" y="249.9" font-size="16.5" text-anchor="middle" fill="#333">-25</text>
<text x="601.65" y="249.9" font-size="16.5" text-anchor="middle" fill="#333">0</text>
<text x="639.18" y="249.9" font-size="16.5" text-anchor="middle" fill="#333">25</text>
<text x="676.7" y="249.9" font-size="16.5" text-anchor="middle" fill="#333">50</text>
<text x="521" y="235" font-size="16.5" text-anchor="end" fill="#333">-2000</text>
<text x="521" y="160.63" font-size="16.5" text-anchor="end" fill="#333">-1000</text>
<path d="M484.8 161.23h3.65v-2.66h-3.65ZM489.95 161.23h3.3v-2.66h-3.3Z" fill="#fff"/>
<text x="521" y="86.27" font-size="16.5" text-anchor="end" fill="#333">0</text>
<text x="521" y="11.9" font-size="16.5" text-anchor="end" fill="#333">1000</text>
<path d="M484.8 12.5h3.65v-2.66h-3.65ZM489.95 12.5h3.3v-2.66h-3.3Z" fill="#fff"/>
<text x="528.4" y="22.2" font-size="16" text-anchor="start" fill="#111">(c)</text>
<text x="526.6" y="527.8" font-size="16.5" text-anchor="middle" fill="#333">-50</text>
<text x="564.12" y="527.8" font-size="16.5" text-anchor="middle" fill="#333">-25</text>
<text x="601.65" y="527.8" font-size="16.5" text-anchor="middle" fill="#333">0</text>
<text x="639.18" y="527.8" font-size="16.5" text-anchor="middle" fill="#333">25</text>
<text x="676.7" y="527.8" font-size="16.5" text-anchor="middle" fill="#333">50</text>
<text x="521" y="512.9" font-size="16.5" text-anchor="end" fill="#333">-2000</text>
<text x="521" y="438.53" font-size="16.5" text-anchor="end" fill="#333">-1000</text>
<path d="M484.8 439.13h3.65v-2.66h-3.65ZM489.95 439.13h3.3v-2.66h-3.3Z" fill="#fff"/>
<text x="521" y="364.17" font-size="16.5" text-anchor="end" fill="#333">0</text>
<text x="521" y="289.8" font-size="16.5" text-anchor="end" fill="#333">1000</text>
<path d="M484.8 290.4h3.65v-2.66h-3.65ZM489.95 290.4h3.3v-2.66h-3.3Z" fill="#fff"/>
<text x="528.4" y="300.1" font-size="16" text-anchor="start" fill="#111">(f)</text>
<text transform="translate(13.6 117.5) rotate(-90)" font-size="18.2" text-anchor="middle" fill="#333"><tspan font-style="italic">R</tspan> (<tspan font-style="italic">&#937;</tspan>)</text>
<text transform="translate(13.9 395.3) rotate(-90)" font-size="18.2" text-anchor="middle" fill="#333"><tspan font-style="italic">R</tspan> (<tspan font-style="italic">&#937;</tspan>)</text>
<g transform="translate(242.4 0) rotate(-90)" fill="#333"><text x="-172.7" y="0" font-size="19" font-style="italic">A</text><text x="-160.2" y="0" font-size="19">&#916;</text><text x="-144.7" y="0" font-size="19" font-style="italic">R</text><text x="-126.6" y="0" font-size="19">(</text><text x="-101.95" y="0" font-size="19">n</text><text x="-93.15" y="0" font-size="19">m</text><text transform="translate(-120.3 0) scale(0.88 1)" font-size="19" font-style="italic">&#937;</text><text x="-77.05" y="-9.6" font-size="15">2</text><text x="-68" y="0" font-size="19">)</text></g>
<g transform="translate(242.5 0) rotate(-90)" fill="#333"><text x="-451" y="0" font-size="19" font-style="italic">A</text><text x="-438.5" y="0" font-size="19">&#916;</text><text x="-423" y="0" font-size="19" font-style="italic">R</text><text x="-404.9" y="0" font-size="19">(</text><text x="-380.25" y="0" font-size="19">n</text><text x="-371.45" y="0" font-size="19">m</text><text transform="translate(-398.6 0) scale(0.88 1)" font-size="19" font-style="italic">&#937;</text><text x="-355.35" y="-9.6" font-size="15">2</text><text x="-346.3" y="0" font-size="19">)</text></g>
<g transform="translate(471.4 0) rotate(-90)" fill="#333"><text x="-172.7" y="0" font-size="19" font-style="italic">A</text><text x="-160.2" y="0" font-size="19">&#916;</text><text x="-144.7" y="0" font-size="19" font-style="italic">R</text><text x="-126.6" y="0" font-size="19">(</text><text x="-101.95" y="0" font-size="19">n</text><text x="-93.15" y="0" font-size="19">m</text><text transform="translate(-120.3 0) scale(0.88 1)" font-size="19" font-style="italic">&#937;</text><text x="-77.05" y="-9.6" font-size="15">2</text><text x="-68" y="0" font-size="19">)</text></g>
<g transform="translate(471.5 0) rotate(-90)" fill="#333"><text x="-451" y="0" font-size="19" font-style="italic">A</text><text x="-438.5" y="0" font-size="19">&#916;</text><text x="-423" y="0" font-size="19" font-style="italic">R</text><text x="-404.9" y="0" font-size="19">(</text><text x="-380.25" y="0" font-size="19">n</text><text x="-371.45" y="0" font-size="19">m</text><text transform="translate(-398.6 0) scale(0.88 1)" font-size="19" font-style="italic">&#937;</text><text x="-355.35" y="-9.6" font-size="15">2</text><text x="-346.3" y="0" font-size="19">)</text></g>
<text x="144.2" y="270.9" font-size="18.5" text-anchor="middle" fill="#333"><tspan font-style="italic">T</tspan> (K)</text>
<text x="144.2" y="549" font-size="18.5" text-anchor="middle" fill="#333"><tspan font-style="italic">T</tspan> (K)</text>
<g fill="#333" font-size="18.5"><text x="334.3" y="271.7" font-style="italic">&#956;</text><text x="344.85" y="280.5" font-size="14">0</text><text x="354" y="271.7" font-style="italic">H</text><text x="371.85" y="271.7">(mT)</text></g>
<g fill="#333" font-size="18.5"><text x="563.75" y="271.7" font-style="italic">&#956;</text><text x="574.3" y="280.5" font-size="14">0</text><text x="583.45" y="271.7" font-style="italic">H</text><text x="601.3" y="271.7">(mT)</text></g>
<g fill="#333" font-size="18.5"><text x="334.35" y="549.7" font-style="italic">&#956;</text><text x="344.9" y="558.5" font-size="14">0</text><text x="354.05" y="549.7" font-style="italic">H</text><text x="371.9" y="549.7">(mT)</text></g>
<g fill="#333" font-size="18.5"><text x="563.75" y="549.7" font-style="italic">&#956;</text><text x="574.3" y="558.5" font-size="14">0</text><text x="583.45" y="549.7" font-style="italic">H</text><text x="601.3" y="549.7">(mT)</text></g>
</svg>
</body></html>
